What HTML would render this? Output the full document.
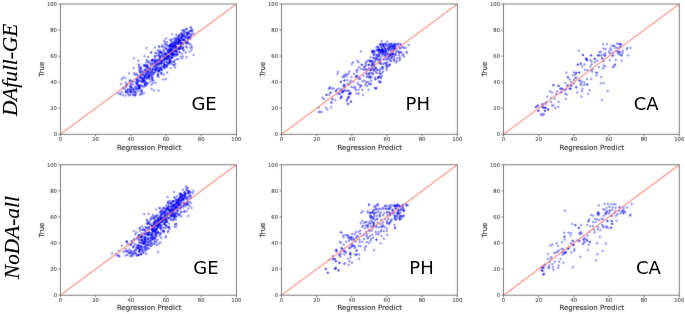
<!DOCTYPE html><html><head><meta charset="utf-8"><style>
html,body{margin:0;padding:0;background:#fff;width:685px;height:314px;overflow:hidden}
svg{display:block}
.t{font-family:"DejaVu Sans",sans-serif;font-size:5.3px;fill:#333;stroke:#333;stroke-width:0.06px}
.l{font-family:"DejaVu Sans",sans-serif;font-size:7px;fill:#1a1a1a;stroke:#1a1a1a;stroke-width:0.1px}
.big{font-family:"DejaVu Sans",sans-serif;font-size:18px;fill:#000}
.row{font-family:"Liberation Serif",serif;font-style:italic;font-size:21.3px;fill:#000;stroke:#000;stroke-width:0.18px}
</style></head><body><svg width="685" height="314" viewBox="0 0 685 314">
<defs><filter id="soft" x="0" y="0" width="685" height="314" filterUnits="userSpaceOnUse" color-interpolation-filters="sRGB"><feGaussianBlur in="SourceGraphic" stdDeviation="0.8" result="b"/><feComposite in="SourceGraphic" in2="b" operator="arithmetic" k1="0" k2="0.75" k3="0.25" k4="0"/></filter></defs>
<g filter="url(#soft)">
<rect width="685" height="314" fill="#fff"/>
<g fill="#0000ff" fill-opacity="0.42" stroke="#0000ff" stroke-opacity="0.42" stroke-width="0.3"><circle cx="130.4" cy="94.6" r="1.0"/><circle cx="133.3" cy="95.0" r="1.0"/><circle cx="122.8" cy="95.3" r="1.0"/><circle cx="135.2" cy="95.3" r="1.0"/><circle cx="129.1" cy="95.6" r="1.0"/><circle cx="134.2" cy="95.5" r="1.0"/><circle cx="125.6" cy="95.7" r="1.0"/><circle cx="139.7" cy="94.6" r="1.0"/><circle cx="135.4" cy="95.1" r="1.0"/><circle cx="141.1" cy="94.4" r="1.0"/><circle cx="120.5" cy="94.0" r="1.0"/><circle cx="136.0" cy="93.5" r="1.0"/><circle cx="141.9" cy="93.8" r="1.0"/><circle cx="118.1" cy="93.3" r="1.0"/><circle cx="128.4" cy="94.1" r="1.0"/><circle cx="120.1" cy="94.0" r="1.0"/><circle cx="132.9" cy="94.1" r="1.0"/><circle cx="144.0" cy="93.2" r="1.0"/><circle cx="130.5" cy="92.0" r="1.0"/><circle cx="126.0" cy="92.2" r="1.0"/><circle cx="135.1" cy="92.4" r="1.0"/><circle cx="134.5" cy="92.3" r="1.0"/><circle cx="131.2" cy="92.2" r="1.0"/><circle cx="130.3" cy="92.1" r="1.0"/><circle cx="121.7" cy="91.9" r="1.0"/><circle cx="127.6" cy="92.9" r="1.0"/><circle cx="141.8" cy="92.3" r="1.0"/><circle cx="125.8" cy="91.6" r="1.0"/><circle cx="127.3" cy="91.5" r="1.0"/><circle cx="137.4" cy="91.4" r="1.0"/><circle cx="125.6" cy="91.7" r="1.0"/><circle cx="130.9" cy="90.7" r="1.0"/><circle cx="130.1" cy="91.0" r="1.0"/><circle cx="134.0" cy="91.6" r="1.0"/><circle cx="141.6" cy="91.2" r="1.0"/><circle cx="132.5" cy="91.7" r="1.0"/><circle cx="140.3" cy="91.0" r="1.0"/><circle cx="141.9" cy="90.0" r="1.0"/><circle cx="133.4" cy="89.3" r="1.0"/><circle cx="127.8" cy="90.4" r="1.0"/><circle cx="127.5" cy="90.4" r="1.0"/><circle cx="130.0" cy="89.8" r="1.0"/><circle cx="125.3" cy="89.3" r="1.0"/><circle cx="129.9" cy="89.3" r="1.0"/><circle cx="133.3" cy="89.6" r="1.0"/><circle cx="135.4" cy="90.4" r="1.0"/><circle cx="131.5" cy="89.5" r="1.0"/><circle cx="151.7" cy="88.9" r="1.0"/><circle cx="128.1" cy="89.0" r="1.0"/><circle cx="138.0" cy="88.7" r="1.0"/><circle cx="138.7" cy="88.6" r="1.0"/><circle cx="139.2" cy="88.8" r="1.0"/><circle cx="139.5" cy="88.4" r="1.0"/><circle cx="136.8" cy="88.4" r="1.0"/><circle cx="136.1" cy="88.9" r="1.0"/><circle cx="123.2" cy="88.4" r="1.0"/><circle cx="133.5" cy="88.8" r="1.0"/><circle cx="139.3" cy="87.2" r="1.0"/><circle cx="135.8" cy="87.9" r="1.0"/><circle cx="140.4" cy="87.7" r="1.0"/><circle cx="126.0" cy="86.9" r="1.0"/><circle cx="143.6" cy="86.9" r="1.0"/><circle cx="130.3" cy="87.1" r="1.0"/><circle cx="130.9" cy="86.7" r="1.0"/><circle cx="134.9" cy="86.9" r="1.0"/><circle cx="131.5" cy="87.5" r="1.0"/><circle cx="138.7" cy="87.1" r="1.0"/><circle cx="131.5" cy="87.5" r="1.0"/><circle cx="126.2" cy="85.7" r="1.0"/><circle cx="140.1" cy="85.6" r="1.0"/><circle cx="145.2" cy="86.0" r="1.0"/><circle cx="141.5" cy="85.5" r="1.0"/><circle cx="139.0" cy="86.5" r="1.0"/><circle cx="145.3" cy="85.5" r="1.0"/><circle cx="138.5" cy="86.1" r="1.0"/><circle cx="139.5" cy="86.5" r="1.0"/><circle cx="136.5" cy="85.8" r="1.0"/><circle cx="142.3" cy="86.0" r="1.0"/><circle cx="129.9" cy="86.1" r="1.0"/><circle cx="121.0" cy="84.0" r="1.0"/><circle cx="139.5" cy="85.2" r="1.0"/><circle cx="131.1" cy="84.0" r="1.0"/><circle cx="133.1" cy="84.6" r="1.0"/><circle cx="126.6" cy="85.2" r="1.0"/><circle cx="126.6" cy="84.8" r="1.0"/><circle cx="130.8" cy="85.0" r="1.0"/><circle cx="145.2" cy="84.4" r="1.0"/><circle cx="151.6" cy="84.6" r="1.0"/><circle cx="138.1" cy="84.9" r="1.0"/><circle cx="146.8" cy="85.0" r="1.0"/><circle cx="137.6" cy="83.9" r="1.0"/><circle cx="136.6" cy="83.7" r="1.0"/><circle cx="147.2" cy="83.5" r="1.0"/><circle cx="153.3" cy="83.0" r="1.0"/><circle cx="136.6" cy="83.2" r="1.0"/><circle cx="144.6" cy="84.0" r="1.0"/><circle cx="146.5" cy="83.9" r="1.0"/><circle cx="145.2" cy="83.4" r="1.0"/><circle cx="148.2" cy="82.9" r="1.0"/><circle cx="137.2" cy="82.8" r="1.0"/><circle cx="145.3" cy="83.5" r="1.0"/><circle cx="155.8" cy="82.8" r="1.0"/><circle cx="132.1" cy="81.5" r="1.0"/><circle cx="150.7" cy="81.6" r="1.0"/><circle cx="144.0" cy="81.4" r="1.0"/><circle cx="131.9" cy="81.9" r="1.0"/><circle cx="145.7" cy="81.8" r="1.0"/><circle cx="137.3" cy="82.2" r="1.0"/><circle cx="125.8" cy="82.5" r="1.0"/><circle cx="135.3" cy="82.3" r="1.0"/><circle cx="143.1" cy="81.8" r="1.0"/><circle cx="145.5" cy="82.3" r="1.0"/><circle cx="142.3" cy="81.8" r="1.0"/><circle cx="141.2" cy="82.0" r="1.0"/><circle cx="137.7" cy="81.4" r="1.0"/><circle cx="144.0" cy="80.9" r="1.0"/><circle cx="136.9" cy="80.6" r="1.0"/><circle cx="144.1" cy="80.7" r="1.0"/><circle cx="130.2" cy="80.2" r="1.0"/><circle cx="152.6" cy="80.2" r="1.0"/><circle cx="138.5" cy="80.2" r="1.0"/><circle cx="130.1" cy="80.4" r="1.0"/><circle cx="140.2" cy="80.8" r="1.0"/><circle cx="139.1" cy="80.7" r="1.0"/><circle cx="143.0" cy="80.9" r="1.0"/><circle cx="133.0" cy="80.9" r="1.0"/><circle cx="144.4" cy="79.4" r="1.0"/><circle cx="165.8" cy="79.0" r="1.0"/><circle cx="137.1" cy="79.6" r="1.0"/><circle cx="136.4" cy="79.1" r="1.0"/><circle cx="142.2" cy="80.1" r="1.0"/><circle cx="142.2" cy="80.1" r="1.0"/><circle cx="149.6" cy="79.3" r="1.0"/><circle cx="143.7" cy="79.8" r="1.0"/><circle cx="136.7" cy="80.0" r="1.0"/><circle cx="144.3" cy="79.9" r="1.0"/><circle cx="163.2" cy="79.6" r="1.0"/><circle cx="152.6" cy="79.7" r="1.0"/><circle cx="121.7" cy="79.4" r="1.0"/><circle cx="145.8" cy="77.9" r="1.0"/><circle cx="143.5" cy="78.2" r="1.0"/><circle cx="137.8" cy="78.5" r="1.0"/><circle cx="140.3" cy="77.6" r="1.0"/><circle cx="139.6" cy="77.8" r="1.0"/><circle cx="123.2" cy="77.6" r="1.0"/><circle cx="152.3" cy="77.7" r="1.0"/><circle cx="149.0" cy="77.6" r="1.0"/><circle cx="142.1" cy="78.6" r="1.0"/><circle cx="151.6" cy="78.8" r="1.0"/><circle cx="147.2" cy="78.5" r="1.0"/><circle cx="146.9" cy="78.3" r="1.0"/><circle cx="125.4" cy="77.9" r="1.0"/><circle cx="142.3" cy="78.2" r="1.0"/><circle cx="148.3" cy="76.4" r="1.0"/><circle cx="148.4" cy="77.3" r="1.0"/><circle cx="144.9" cy="76.2" r="1.0"/><circle cx="147.4" cy="77.2" r="1.0"/><circle cx="144.9" cy="77.1" r="1.0"/><circle cx="151.2" cy="76.7" r="1.0"/><circle cx="148.9" cy="77.1" r="1.0"/><circle cx="140.9" cy="77.0" r="1.0"/><circle cx="140.3" cy="77.4" r="1.0"/><circle cx="158.5" cy="77.0" r="1.0"/><circle cx="144.0" cy="77.5" r="1.0"/><circle cx="152.5" cy="77.2" r="1.0"/><circle cx="148.7" cy="76.3" r="1.0"/><circle cx="140.7" cy="77.1" r="1.0"/><circle cx="158.2" cy="75.6" r="1.0"/><circle cx="148.7" cy="76.0" r="1.0"/><circle cx="150.1" cy="75.0" r="1.0"/><circle cx="149.4" cy="75.3" r="1.0"/><circle cx="140.7" cy="75.4" r="1.0"/><circle cx="150.7" cy="75.3" r="1.0"/><circle cx="144.7" cy="75.7" r="1.0"/><circle cx="140.0" cy="75.7" r="1.0"/><circle cx="146.2" cy="75.4" r="1.0"/><circle cx="144.6" cy="75.6" r="1.0"/><circle cx="152.4" cy="75.3" r="1.0"/><circle cx="146.5" cy="75.0" r="1.0"/><circle cx="142.7" cy="75.1" r="1.0"/><circle cx="157.4" cy="75.7" r="1.0"/><circle cx="148.5" cy="74.2" r="1.0"/><circle cx="147.4" cy="73.6" r="1.0"/><circle cx="134.5" cy="74.6" r="1.0"/><circle cx="153.2" cy="74.2" r="1.0"/><circle cx="163.8" cy="74.5" r="1.0"/><circle cx="136.4" cy="74.0" r="1.0"/><circle cx="161.5" cy="74.1" r="1.0"/><circle cx="142.3" cy="74.2" r="1.0"/><circle cx="143.5" cy="74.5" r="1.0"/><circle cx="146.1" cy="74.2" r="1.0"/><circle cx="136.3" cy="74.4" r="1.0"/><circle cx="157.8" cy="73.7" r="1.0"/><circle cx="151.2" cy="74.3" r="1.0"/><circle cx="141.7" cy="74.3" r="1.0"/><circle cx="161.6" cy="72.8" r="1.0"/><circle cx="150.3" cy="73.3" r="1.0"/><circle cx="146.6" cy="73.6" r="1.0"/><circle cx="153.1" cy="72.7" r="1.0"/><circle cx="134.2" cy="73.0" r="1.0"/><circle cx="148.9" cy="72.4" r="1.0"/><circle cx="140.3" cy="73.2" r="1.0"/><circle cx="167.1" cy="72.5" r="1.0"/><circle cx="154.6" cy="72.3" r="1.0"/><circle cx="150.1" cy="72.4" r="1.0"/><circle cx="147.6" cy="72.3" r="1.0"/><circle cx="129.1" cy="73.4" r="1.0"/><circle cx="153.6" cy="73.4" r="1.0"/><circle cx="160.7" cy="73.3" r="1.0"/><circle cx="142.9" cy="73.1" r="1.0"/><circle cx="148.7" cy="71.9" r="1.0"/><circle cx="142.5" cy="71.5" r="1.0"/><circle cx="152.0" cy="71.8" r="1.0"/><circle cx="140.7" cy="71.9" r="1.0"/><circle cx="158.1" cy="71.2" r="1.0"/><circle cx="143.6" cy="72.3" r="1.0"/><circle cx="151.9" cy="72.3" r="1.0"/><circle cx="144.7" cy="72.2" r="1.0"/><circle cx="147.7" cy="71.1" r="1.0"/><circle cx="158.9" cy="71.5" r="1.0"/><circle cx="151.6" cy="71.3" r="1.0"/><circle cx="147.3" cy="71.0" r="1.0"/><circle cx="139.9" cy="72.0" r="1.0"/><circle cx="159.0" cy="71.1" r="1.0"/><circle cx="155.0" cy="72.0" r="1.0"/><circle cx="156.5" cy="70.8" r="1.0"/><circle cx="141.6" cy="70.3" r="1.0"/><circle cx="161.9" cy="70.2" r="1.0"/><circle cx="145.4" cy="70.1" r="1.0"/><circle cx="150.0" cy="70.1" r="1.0"/><circle cx="140.0" cy="70.9" r="1.0"/><circle cx="155.7" cy="70.1" r="1.0"/><circle cx="161.2" cy="69.8" r="1.0"/><circle cx="159.3" cy="70.1" r="1.0"/><circle cx="157.9" cy="69.7" r="1.0"/><circle cx="139.3" cy="70.3" r="1.0"/><circle cx="145.5" cy="69.9" r="1.0"/><circle cx="147.0" cy="70.8" r="1.0"/><circle cx="144.5" cy="69.8" r="1.0"/><circle cx="159.4" cy="70.4" r="1.0"/><circle cx="152.9" cy="69.8" r="1.0"/><circle cx="161.0" cy="68.5" r="1.0"/><circle cx="152.4" cy="69.3" r="1.0"/><circle cx="150.2" cy="69.5" r="1.0"/><circle cx="160.3" cy="69.2" r="1.0"/><circle cx="150.2" cy="68.5" r="1.0"/><circle cx="154.4" cy="69.5" r="1.0"/><circle cx="162.0" cy="69.3" r="1.0"/><circle cx="150.2" cy="68.5" r="1.0"/><circle cx="147.6" cy="69.2" r="1.0"/><circle cx="152.8" cy="68.6" r="1.0"/><circle cx="156.2" cy="69.6" r="1.0"/><circle cx="156.5" cy="68.5" r="1.0"/><circle cx="153.2" cy="69.4" r="1.0"/><circle cx="156.1" cy="69.4" r="1.0"/><circle cx="140.7" cy="68.7" r="1.0"/><circle cx="146.6" cy="68.4" r="1.0"/><circle cx="163.8" cy="67.5" r="1.0"/><circle cx="158.4" cy="67.4" r="1.0"/><circle cx="138.8" cy="67.6" r="1.0"/><circle cx="159.1" cy="68.3" r="1.0"/><circle cx="164.8" cy="68.3" r="1.0"/><circle cx="148.2" cy="67.4" r="1.0"/><circle cx="160.7" cy="68.1" r="1.0"/><circle cx="140.7" cy="67.3" r="1.0"/><circle cx="155.6" cy="67.8" r="1.0"/><circle cx="140.7" cy="68.4" r="1.0"/><circle cx="157.5" cy="67.6" r="1.0"/><circle cx="140.3" cy="67.8" r="1.0"/><circle cx="133.5" cy="68.3" r="1.0"/><circle cx="156.4" cy="68.0" r="1.0"/><circle cx="170.6" cy="68.0" r="1.0"/><circle cx="149.1" cy="67.9" r="1.0"/><circle cx="160.3" cy="67.4" r="1.0"/><circle cx="166.1" cy="66.7" r="1.0"/><circle cx="164.3" cy="66.8" r="1.0"/><circle cx="161.8" cy="66.4" r="1.0"/><circle cx="145.3" cy="65.9" r="1.0"/><circle cx="143.8" cy="66.1" r="1.0"/><circle cx="163.1" cy="66.8" r="1.0"/><circle cx="147.6" cy="67.0" r="1.0"/><circle cx="155.7" cy="67.0" r="1.0"/><circle cx="147.1" cy="66.5" r="1.0"/><circle cx="153.6" cy="66.6" r="1.0"/><circle cx="145.9" cy="66.2" r="1.0"/><circle cx="166.7" cy="67.0" r="1.0"/><circle cx="147.2" cy="66.7" r="1.0"/><circle cx="154.5" cy="66.2" r="1.0"/><circle cx="153.9" cy="66.3" r="1.0"/><circle cx="164.2" cy="66.4" r="1.0"/><circle cx="145.2" cy="65.9" r="1.0"/><circle cx="144.0" cy="64.8" r="1.0"/><circle cx="147.5" cy="65.4" r="1.0"/><circle cx="155.6" cy="65.2" r="1.0"/><circle cx="174.2" cy="65.5" r="1.0"/><circle cx="159.6" cy="65.0" r="1.0"/><circle cx="166.0" cy="64.7" r="1.0"/><circle cx="155.3" cy="64.7" r="1.0"/><circle cx="138.9" cy="64.5" r="1.0"/><circle cx="139.1" cy="65.4" r="1.0"/><circle cx="164.4" cy="64.8" r="1.0"/><circle cx="157.4" cy="65.6" r="1.0"/><circle cx="147.0" cy="65.1" r="1.0"/><circle cx="164.3" cy="65.6" r="1.0"/><circle cx="145.2" cy="65.1" r="1.0"/><circle cx="165.0" cy="65.1" r="1.0"/><circle cx="167.1" cy="65.3" r="1.0"/><circle cx="150.7" cy="65.3" r="1.0"/><circle cx="167.7" cy="64.2" r="1.0"/><circle cx="170.7" cy="63.3" r="1.0"/><circle cx="156.3" cy="64.0" r="1.0"/><circle cx="150.8" cy="64.3" r="1.0"/><circle cx="157.4" cy="64.4" r="1.0"/><circle cx="152.8" cy="63.9" r="1.0"/><circle cx="155.8" cy="63.6" r="1.0"/><circle cx="169.1" cy="64.1" r="1.0"/><circle cx="161.3" cy="63.4" r="1.0"/><circle cx="158.7" cy="64.1" r="1.0"/><circle cx="161.0" cy="63.4" r="1.0"/><circle cx="156.9" cy="64.4" r="1.0"/><circle cx="163.8" cy="64.1" r="1.0"/><circle cx="163.9" cy="64.3" r="1.0"/><circle cx="155.1" cy="63.9" r="1.0"/><circle cx="158.5" cy="64.0" r="1.0"/><circle cx="175.6" cy="63.9" r="1.0"/><circle cx="161.5" cy="63.3" r="1.0"/><circle cx="169.0" cy="62.5" r="1.0"/><circle cx="157.8" cy="62.9" r="1.0"/><circle cx="148.8" cy="62.7" r="1.0"/><circle cx="162.1" cy="63.1" r="1.0"/><circle cx="164.5" cy="62.3" r="1.0"/><circle cx="166.7" cy="62.2" r="1.0"/><circle cx="159.2" cy="63.1" r="1.0"/><circle cx="167.9" cy="62.8" r="1.0"/><circle cx="169.9" cy="62.2" r="1.0"/><circle cx="151.2" cy="62.9" r="1.0"/><circle cx="169.9" cy="62.5" r="1.0"/><circle cx="161.0" cy="62.1" r="1.0"/><circle cx="155.3" cy="62.4" r="1.0"/><circle cx="156.5" cy="63.0" r="1.0"/><circle cx="173.6" cy="62.0" r="1.0"/><circle cx="166.9" cy="62.2" r="1.0"/><circle cx="146.3" cy="62.4" r="1.0"/><circle cx="159.7" cy="62.7" r="1.0"/><circle cx="159.2" cy="60.9" r="1.0"/><circle cx="162.0" cy="61.5" r="1.0"/><circle cx="147.6" cy="60.9" r="1.0"/><circle cx="172.1" cy="61.5" r="1.0"/><circle cx="154.7" cy="61.5" r="1.0"/><circle cx="156.5" cy="61.2" r="1.0"/><circle cx="169.9" cy="61.8" r="1.0"/><circle cx="162.3" cy="61.3" r="1.0"/><circle cx="161.1" cy="61.1" r="1.0"/><circle cx="156.9" cy="60.8" r="1.0"/><circle cx="148.7" cy="61.8" r="1.0"/><circle cx="162.5" cy="60.8" r="1.0"/><circle cx="169.5" cy="61.1" r="1.0"/><circle cx="154.3" cy="61.1" r="1.0"/><circle cx="170.0" cy="61.8" r="1.0"/><circle cx="153.0" cy="60.7" r="1.0"/><circle cx="155.1" cy="61.5" r="1.0"/><circle cx="164.5" cy="61.1" r="1.0"/><circle cx="154.3" cy="60.4" r="1.0"/><circle cx="170.0" cy="60.2" r="1.0"/><circle cx="159.2" cy="60.5" r="1.0"/><circle cx="156.4" cy="59.8" r="1.0"/><circle cx="161.3" cy="60.4" r="1.0"/><circle cx="170.5" cy="60.3" r="1.0"/><circle cx="152.0" cy="60.0" r="1.0"/><circle cx="159.3" cy="60.0" r="1.0"/><circle cx="151.4" cy="60.5" r="1.0"/><circle cx="178.5" cy="59.3" r="1.0"/><circle cx="174.9" cy="60.3" r="1.0"/><circle cx="169.2" cy="59.8" r="1.0"/><circle cx="160.8" cy="60.3" r="1.0"/><circle cx="167.0" cy="59.8" r="1.0"/><circle cx="146.7" cy="60.1" r="1.0"/><circle cx="163.9" cy="60.1" r="1.0"/><circle cx="152.4" cy="59.9" r="1.0"/><circle cx="152.6" cy="59.8" r="1.0"/><circle cx="166.3" cy="59.1" r="1.0"/><circle cx="160.0" cy="58.4" r="1.0"/><circle cx="163.9" cy="58.7" r="1.0"/><circle cx="165.1" cy="58.4" r="1.0"/><circle cx="158.7" cy="58.7" r="1.0"/><circle cx="154.9" cy="59.1" r="1.0"/><circle cx="164.6" cy="58.5" r="1.0"/><circle cx="169.8" cy="59.2" r="1.0"/><circle cx="168.6" cy="58.1" r="1.0"/><circle cx="167.4" cy="58.2" r="1.0"/><circle cx="166.9" cy="58.8" r="1.0"/><circle cx="182.2" cy="58.5" r="1.0"/><circle cx="165.4" cy="58.6" r="1.0"/><circle cx="171.6" cy="58.0" r="1.0"/><circle cx="177.0" cy="59.2" r="1.0"/><circle cx="163.6" cy="58.9" r="1.0"/><circle cx="165.3" cy="58.7" r="1.0"/><circle cx="171.4" cy="58.2" r="1.0"/><circle cx="167.0" cy="56.8" r="1.0"/><circle cx="165.7" cy="57.1" r="1.0"/><circle cx="165.0" cy="56.8" r="1.0"/><circle cx="173.3" cy="57.0" r="1.0"/><circle cx="160.4" cy="57.1" r="1.0"/><circle cx="168.5" cy="57.4" r="1.0"/><circle cx="163.8" cy="57.7" r="1.0"/><circle cx="166.9" cy="57.0" r="1.0"/><circle cx="163.2" cy="57.1" r="1.0"/><circle cx="180.7" cy="56.7" r="1.0"/><circle cx="160.0" cy="57.5" r="1.0"/><circle cx="167.2" cy="56.8" r="1.0"/><circle cx="166.5" cy="57.7" r="1.0"/><circle cx="169.8" cy="56.7" r="1.0"/><circle cx="168.8" cy="56.6" r="1.0"/><circle cx="167.3" cy="57.9" r="1.0"/><circle cx="171.7" cy="57.5" r="1.0"/><circle cx="154.8" cy="56.6" r="1.0"/><circle cx="165.6" cy="56.7" r="1.0"/><circle cx="168.4" cy="56.4" r="1.0"/><circle cx="183.0" cy="56.3" r="1.0"/><circle cx="166.9" cy="55.9" r="1.0"/><circle cx="163.3" cy="55.6" r="1.0"/><circle cx="167.5" cy="55.7" r="1.0"/><circle cx="156.9" cy="55.7" r="1.0"/><circle cx="169.8" cy="55.8" r="1.0"/><circle cx="165.5" cy="55.9" r="1.0"/><circle cx="168.3" cy="56.2" r="1.0"/><circle cx="168.3" cy="56.4" r="1.0"/><circle cx="159.3" cy="55.5" r="1.0"/><circle cx="175.4" cy="56.1" r="1.0"/><circle cx="159.3" cy="55.8" r="1.0"/><circle cx="171.9" cy="56.6" r="1.0"/><circle cx="154.8" cy="56.2" r="1.0"/><circle cx="168.3" cy="56.5" r="1.0"/><circle cx="160.3" cy="56.2" r="1.0"/><circle cx="166.8" cy="55.7" r="1.0"/><circle cx="161.4" cy="56.2" r="1.0"/><circle cx="172.2" cy="54.7" r="1.0"/><circle cx="164.6" cy="54.3" r="1.0"/><circle cx="177.7" cy="54.4" r="1.0"/><circle cx="172.4" cy="55.1" r="1.0"/><circle cx="173.2" cy="54.9" r="1.0"/><circle cx="176.2" cy="54.4" r="1.0"/><circle cx="172.4" cy="54.8" r="1.0"/><circle cx="158.5" cy="55.0" r="1.0"/><circle cx="165.4" cy="54.1" r="1.0"/><circle cx="175.0" cy="54.2" r="1.0"/><circle cx="162.0" cy="54.9" r="1.0"/><circle cx="167.9" cy="54.6" r="1.0"/><circle cx="170.9" cy="54.1" r="1.0"/><circle cx="177.2" cy="55.1" r="1.0"/><circle cx="177.1" cy="54.2" r="1.0"/><circle cx="174.3" cy="54.2" r="1.0"/><circle cx="166.6" cy="54.4" r="1.0"/><circle cx="174.1" cy="54.4" r="1.0"/><circle cx="171.5" cy="54.4" r="1.0"/><circle cx="172.7" cy="53.0" r="1.0"/><circle cx="159.4" cy="53.5" r="1.0"/><circle cx="170.7" cy="52.9" r="1.0"/><circle cx="165.7" cy="53.7" r="1.0"/><circle cx="172.5" cy="53.1" r="1.0"/><circle cx="169.9" cy="53.6" r="1.0"/><circle cx="159.8" cy="52.9" r="1.0"/><circle cx="156.3" cy="53.2" r="1.0"/><circle cx="162.1" cy="53.2" r="1.0"/><circle cx="173.3" cy="53.9" r="1.0"/><circle cx="172.1" cy="53.1" r="1.0"/><circle cx="171.4" cy="53.6" r="1.0"/><circle cx="155.3" cy="53.1" r="1.0"/><circle cx="150.8" cy="52.9" r="1.0"/><circle cx="164.0" cy="53.9" r="1.0"/><circle cx="165.9" cy="54.0" r="1.0"/><circle cx="165.0" cy="53.0" r="1.0"/><circle cx="171.9" cy="52.8" r="1.0"/><circle cx="168.2" cy="52.9" r="1.0"/><circle cx="169.7" cy="52.1" r="1.0"/><circle cx="158.4" cy="52.0" r="1.0"/><circle cx="161.3" cy="52.2" r="1.0"/><circle cx="179.3" cy="52.1" r="1.0"/><circle cx="151.4" cy="51.9" r="1.0"/><circle cx="168.4" cy="51.6" r="1.0"/><circle cx="176.1" cy="52.0" r="1.0"/><circle cx="170.9" cy="52.2" r="1.0"/><circle cx="175.8" cy="51.5" r="1.0"/><circle cx="168.8" cy="52.5" r="1.0"/><circle cx="185.7" cy="52.7" r="1.0"/><circle cx="163.7" cy="51.5" r="1.0"/><circle cx="160.6" cy="52.4" r="1.0"/><circle cx="171.5" cy="52.5" r="1.0"/><circle cx="179.6" cy="52.2" r="1.0"/><circle cx="169.5" cy="52.3" r="1.0"/><circle cx="177.0" cy="52.3" r="1.0"/><circle cx="167.0" cy="51.6" r="1.0"/><circle cx="161.8" cy="52.4" r="1.0"/><circle cx="173.9" cy="51.0" r="1.0"/><circle cx="170.9" cy="50.5" r="1.0"/><circle cx="157.8" cy="50.3" r="1.0"/><circle cx="174.7" cy="50.7" r="1.0"/><circle cx="169.9" cy="50.5" r="1.0"/><circle cx="177.2" cy="51.1" r="1.0"/><circle cx="170.7" cy="50.4" r="1.0"/><circle cx="171.2" cy="50.4" r="1.0"/><circle cx="172.7" cy="50.9" r="1.0"/><circle cx="171.0" cy="51.1" r="1.0"/><circle cx="167.8" cy="51.4" r="1.0"/><circle cx="159.6" cy="50.6" r="1.0"/><circle cx="183.9" cy="50.6" r="1.0"/><circle cx="160.2" cy="51.4" r="1.0"/><circle cx="169.2" cy="50.8" r="1.0"/><circle cx="176.3" cy="50.2" r="1.0"/><circle cx="173.3" cy="51.4" r="1.0"/><circle cx="174.7" cy="51.3" r="1.0"/><circle cx="176.0" cy="51.4" r="1.0"/><circle cx="163.5" cy="49.8" r="1.0"/><circle cx="172.7" cy="49.6" r="1.0"/><circle cx="171.2" cy="49.8" r="1.0"/><circle cx="171.7" cy="49.0" r="1.0"/><circle cx="169.7" cy="49.8" r="1.0"/><circle cx="183.3" cy="49.9" r="1.0"/><circle cx="177.6" cy="49.1" r="1.0"/><circle cx="179.2" cy="49.1" r="1.0"/><circle cx="169.3" cy="49.0" r="1.0"/><circle cx="166.3" cy="49.2" r="1.0"/><circle cx="170.8" cy="49.6" r="1.0"/><circle cx="174.3" cy="49.5" r="1.0"/><circle cx="170.6" cy="49.4" r="1.0"/><circle cx="171.6" cy="49.3" r="1.0"/><circle cx="179.6" cy="48.9" r="1.0"/><circle cx="174.4" cy="49.8" r="1.0"/><circle cx="166.7" cy="49.1" r="1.0"/><circle cx="169.3" cy="50.1" r="1.0"/><circle cx="168.1" cy="49.9" r="1.0"/><circle cx="176.0" cy="47.8" r="1.0"/><circle cx="180.5" cy="48.2" r="1.0"/><circle cx="174.6" cy="48.0" r="1.0"/><circle cx="154.9" cy="47.6" r="1.0"/><circle cx="173.0" cy="47.7" r="1.0"/><circle cx="175.8" cy="48.7" r="1.0"/><circle cx="182.5" cy="47.9" r="1.0"/><circle cx="178.9" cy="47.8" r="1.0"/><circle cx="190.3" cy="47.6" r="1.0"/><circle cx="182.9" cy="48.3" r="1.0"/><circle cx="182.1" cy="48.6" r="1.0"/><circle cx="180.0" cy="48.2" r="1.0"/><circle cx="165.1" cy="48.3" r="1.0"/><circle cx="179.3" cy="48.3" r="1.0"/><circle cx="178.2" cy="47.8" r="1.0"/><circle cx="170.9" cy="48.0" r="1.0"/><circle cx="178.0" cy="47.9" r="1.0"/><circle cx="176.9" cy="48.0" r="1.0"/><circle cx="180.6" cy="47.1" r="1.0"/><circle cx="165.6" cy="47.3" r="1.0"/><circle cx="172.7" cy="46.7" r="1.0"/><circle cx="175.8" cy="47.5" r="1.0"/><circle cx="170.5" cy="46.5" r="1.0"/><circle cx="176.4" cy="47.1" r="1.0"/><circle cx="180.2" cy="46.6" r="1.0"/><circle cx="168.6" cy="46.3" r="1.0"/><circle cx="175.1" cy="46.6" r="1.0"/><circle cx="173.0" cy="47.0" r="1.0"/><circle cx="163.6" cy="46.7" r="1.0"/><circle cx="174.7" cy="46.4" r="1.0"/><circle cx="170.8" cy="46.6" r="1.0"/><circle cx="183.3" cy="47.2" r="1.0"/><circle cx="169.3" cy="47.5" r="1.0"/><circle cx="186.3" cy="46.4" r="1.0"/><circle cx="172.3" cy="46.7" r="1.0"/><circle cx="186.7" cy="47.4" r="1.0"/><circle cx="166.6" cy="44.9" r="1.0"/><circle cx="180.7" cy="45.9" r="1.0"/><circle cx="167.9" cy="45.5" r="1.0"/><circle cx="175.4" cy="45.8" r="1.0"/><circle cx="172.3" cy="46.1" r="1.0"/><circle cx="174.5" cy="45.4" r="1.0"/><circle cx="170.0" cy="46.0" r="1.0"/><circle cx="169.9" cy="45.3" r="1.0"/><circle cx="175.5" cy="45.2" r="1.0"/><circle cx="169.7" cy="46.0" r="1.0"/><circle cx="191.4" cy="45.4" r="1.0"/><circle cx="173.8" cy="45.9" r="1.0"/><circle cx="172.9" cy="45.2" r="1.0"/><circle cx="173.0" cy="45.8" r="1.0"/><circle cx="170.4" cy="45.3" r="1.0"/><circle cx="162.1" cy="45.4" r="1.0"/><circle cx="175.1" cy="45.5" r="1.0"/><circle cx="171.1" cy="44.4" r="1.0"/><circle cx="172.6" cy="44.0" r="1.0"/><circle cx="171.0" cy="44.6" r="1.0"/><circle cx="182.9" cy="43.7" r="1.0"/><circle cx="176.9" cy="43.9" r="1.0"/><circle cx="164.7" cy="44.1" r="1.0"/><circle cx="181.6" cy="44.5" r="1.0"/><circle cx="189.9" cy="43.9" r="1.0"/><circle cx="188.4" cy="43.7" r="1.0"/><circle cx="174.6" cy="43.9" r="1.0"/><circle cx="178.5" cy="43.7" r="1.0"/><circle cx="180.1" cy="44.8" r="1.0"/><circle cx="183.0" cy="43.9" r="1.0"/><circle cx="178.2" cy="43.8" r="1.0"/><circle cx="171.2" cy="44.3" r="1.0"/><circle cx="181.5" cy="44.8" r="1.0"/><circle cx="181.2" cy="44.2" r="1.0"/><circle cx="186.4" cy="43.3" r="1.0"/><circle cx="186.5" cy="43.1" r="1.0"/><circle cx="180.5" cy="42.9" r="1.0"/><circle cx="182.3" cy="43.3" r="1.0"/><circle cx="174.3" cy="43.0" r="1.0"/><circle cx="181.9" cy="42.9" r="1.0"/><circle cx="173.5" cy="43.5" r="1.0"/><circle cx="178.2" cy="42.4" r="1.0"/><circle cx="177.9" cy="42.9" r="1.0"/><circle cx="175.6" cy="43.4" r="1.0"/><circle cx="167.2" cy="42.3" r="1.0"/><circle cx="173.6" cy="43.4" r="1.0"/><circle cx="180.7" cy="42.7" r="1.0"/><circle cx="178.2" cy="43.0" r="1.0"/><circle cx="176.1" cy="43.3" r="1.0"/><circle cx="180.8" cy="43.1" r="1.0"/><circle cx="178.3" cy="42.1" r="1.0"/><circle cx="175.4" cy="41.5" r="1.0"/><circle cx="179.0" cy="41.4" r="1.0"/><circle cx="179.0" cy="42.1" r="1.0"/><circle cx="185.8" cy="41.3" r="1.0"/><circle cx="171.8" cy="41.8" r="1.0"/><circle cx="179.9" cy="41.0" r="1.0"/><circle cx="187.8" cy="42.3" r="1.0"/><circle cx="176.3" cy="42.2" r="1.0"/><circle cx="178.7" cy="41.5" r="1.0"/><circle cx="174.5" cy="42.0" r="1.0"/><circle cx="165.2" cy="41.8" r="1.0"/><circle cx="179.4" cy="41.1" r="1.0"/><circle cx="185.8" cy="41.9" r="1.0"/><circle cx="176.5" cy="42.2" r="1.0"/><circle cx="176.4" cy="39.7" r="1.0"/><circle cx="170.1" cy="39.8" r="1.0"/><circle cx="179.6" cy="40.7" r="1.0"/><circle cx="181.7" cy="39.9" r="1.0"/><circle cx="174.8" cy="40.4" r="1.0"/><circle cx="184.4" cy="40.1" r="1.0"/><circle cx="181.2" cy="40.2" r="1.0"/><circle cx="183.1" cy="40.1" r="1.0"/><circle cx="176.4" cy="40.4" r="1.0"/><circle cx="170.9" cy="40.8" r="1.0"/><circle cx="184.9" cy="40.0" r="1.0"/><circle cx="183.7" cy="40.4" r="1.0"/><circle cx="179.9" cy="40.4" r="1.0"/><circle cx="178.6" cy="40.0" r="1.0"/><circle cx="188.3" cy="38.7" r="1.0"/><circle cx="177.7" cy="38.7" r="1.0"/><circle cx="166.0" cy="38.5" r="1.0"/><circle cx="183.5" cy="38.7" r="1.0"/><circle cx="188.0" cy="39.3" r="1.0"/><circle cx="187.9" cy="38.4" r="1.0"/><circle cx="178.4" cy="39.7" r="1.0"/><circle cx="181.5" cy="38.5" r="1.0"/><circle cx="182.9" cy="39.2" r="1.0"/><circle cx="172.2" cy="39.3" r="1.0"/><circle cx="178.2" cy="39.1" r="1.0"/><circle cx="178.2" cy="39.2" r="1.0"/><circle cx="190.0" cy="38.6" r="1.0"/><circle cx="176.3" cy="38.2" r="1.0"/><circle cx="177.5" cy="37.5" r="1.0"/><circle cx="180.4" cy="38.1" r="1.0"/><circle cx="187.3" cy="37.8" r="1.0"/><circle cx="181.3" cy="37.6" r="1.0"/><circle cx="185.7" cy="37.9" r="1.0"/><circle cx="190.4" cy="38.1" r="1.0"/><circle cx="188.9" cy="37.6" r="1.0"/><circle cx="189.9" cy="37.4" r="1.0"/><circle cx="189.1" cy="37.1" r="1.0"/><circle cx="174.5" cy="38.0" r="1.0"/><circle cx="188.4" cy="38.1" r="1.0"/><circle cx="183.3" cy="35.9" r="1.0"/><circle cx="189.4" cy="37.1" r="1.0"/><circle cx="181.7" cy="37.0" r="1.0"/><circle cx="186.5" cy="36.3" r="1.0"/><circle cx="178.4" cy="36.7" r="1.0"/><circle cx="184.9" cy="36.8" r="1.0"/><circle cx="184.6" cy="35.8" r="1.0"/><circle cx="184.2" cy="36.7" r="1.0"/><circle cx="181.8" cy="35.9" r="1.0"/><circle cx="178.8" cy="36.3" r="1.0"/><circle cx="181.7" cy="37.1" r="1.0"/><circle cx="187.1" cy="34.6" r="1.0"/><circle cx="179.1" cy="35.0" r="1.0"/><circle cx="176.3" cy="34.7" r="1.0"/><circle cx="182.4" cy="34.9" r="1.0"/><circle cx="179.0" cy="35.4" r="1.0"/><circle cx="183.1" cy="34.9" r="1.0"/><circle cx="187.2" cy="35.4" r="1.0"/><circle cx="191.3" cy="35.2" r="1.0"/><circle cx="183.3" cy="34.7" r="1.0"/><circle cx="190.6" cy="35.5" r="1.0"/><circle cx="181.7" cy="33.3" r="1.0"/><circle cx="187.0" cy="33.3" r="1.0"/><circle cx="184.6" cy="33.8" r="1.0"/><circle cx="193.5" cy="33.5" r="1.0"/><circle cx="187.9" cy="34.1" r="1.0"/><circle cx="172.2" cy="34.3" r="1.0"/><circle cx="191.7" cy="33.7" r="1.0"/><circle cx="181.3" cy="34.4" r="1.0"/><circle cx="189.0" cy="33.9" r="1.0"/><circle cx="186.6" cy="32.8" r="1.0"/><circle cx="189.1" cy="33.2" r="1.0"/><circle cx="185.1" cy="32.1" r="1.0"/><circle cx="183.4" cy="32.3" r="1.0"/><circle cx="188.0" cy="32.3" r="1.0"/><circle cx="187.9" cy="33.0" r="1.0"/><circle cx="187.9" cy="32.9" r="1.0"/><circle cx="184.1" cy="30.9" r="1.0"/><circle cx="190.0" cy="31.2" r="1.0"/><circle cx="191.3" cy="30.9" r="1.0"/><circle cx="191.9" cy="31.0" r="1.0"/><circle cx="189.7" cy="30.7" r="1.0"/><circle cx="183.4" cy="30.0" r="1.0"/><circle cx="191.8" cy="29.5" r="1.0"/><circle cx="186.4" cy="29.5" r="1.0"/><circle cx="192.4" cy="30.4" r="1.0"/><circle cx="185.6" cy="29.2" r="1.0"/><circle cx="186.7" cy="28.4" r="1.0"/><circle cx="191.0" cy="27.7" r="1.0"/><circle cx="190.6" cy="27.3" r="1.0"/><circle cx="158.6" cy="90.6" r="1.0"/><circle cx="154.1" cy="90.4" r="1.0"/><circle cx="123.2" cy="87.5" r="1.0"/><circle cx="138.7" cy="86.6" r="1.0"/><circle cx="126.9" cy="83.9" r="1.0"/><circle cx="129.5" cy="81.6" r="1.0"/><circle cx="153.4" cy="80.5" r="1.0"/><circle cx="142.8" cy="78.6" r="1.0"/><circle cx="145.1" cy="76.7" r="1.0"/><circle cx="137.9" cy="75.4" r="1.0"/><circle cx="158.0" cy="74.6" r="1.0"/><circle cx="146.0" cy="73.2" r="1.0"/><circle cx="159.0" cy="71.1" r="1.0"/><circle cx="145.9" cy="70.8" r="1.0"/><circle cx="155.0" cy="69.7" r="1.0"/><circle cx="175.0" cy="67.5" r="1.0"/><circle cx="167.0" cy="66.0" r="1.0"/><circle cx="173.8" cy="64.9" r="1.0"/><circle cx="164.8" cy="65.0" r="1.0"/><circle cx="172.6" cy="64.4" r="1.0"/><circle cx="152.9" cy="63.2" r="1.0"/><circle cx="174.2" cy="62.0" r="1.0"/><circle cx="138.4" cy="60.8" r="1.0"/><circle cx="157.1" cy="60.5" r="1.0"/><circle cx="133.8" cy="58.2" r="1.0"/><circle cx="186.7" cy="57.6" r="1.0"/><circle cx="148.2" cy="57.0" r="1.0"/><circle cx="144.5" cy="56.2" r="1.0"/><circle cx="193.5" cy="55.1" r="1.0"/><circle cx="173.7" cy="54.6" r="1.0"/><circle cx="181.9" cy="53.6" r="1.0"/><circle cx="170.2" cy="52.2" r="1.0"/><circle cx="189.4" cy="51.7" r="1.0"/><circle cx="170.6" cy="50.7" r="1.0"/><circle cx="169.9" cy="51.4" r="1.0"/><circle cx="178.7" cy="48.9" r="1.0"/><circle cx="191.4" cy="49.9" r="1.0"/><circle cx="192.0" cy="47.6" r="1.0"/><circle cx="146.6" cy="47.9" r="1.0"/><circle cx="159.2" cy="46.9" r="1.0"/><circle cx="162.0" cy="46.8" r="1.0"/><circle cx="159.2" cy="46.2" r="1.0"/><circle cx="165.7" cy="43.7" r="1.0"/><circle cx="170.6" cy="44.4" r="1.0"/><circle cx="172.9" cy="42.6" r="1.0"/><circle cx="185.8" cy="43.0" r="1.0"/><circle cx="187.5" cy="42.3" r="1.0"/><circle cx="163.9" cy="40.5" r="1.0"/><circle cx="175.3" cy="39.2" r="1.0"/><circle cx="179.9" cy="38.4" r="1.0"/><circle cx="182.2" cy="35.9" r="1.0"/><circle cx="181.0" cy="33.7" r="1.0"/><circle cx="182.3" cy="30.6" r="1.0"/></g>
<line x1="60.40" y1="134.30" x2="236.40" y2="4.00" stroke="#fa8072" stroke-opacity="0.8" stroke-width="1.3"/>
<rect x="60.40" y="4.00" width="176.00" height="130.30" fill="none" stroke="#6a6a6a" stroke-width="0.9"/>
<line x1="60.40" y1="134.30" x2="60.40" y2="136.30" stroke="#6a6a6a" stroke-width="0.9"/>
<line x1="60.40" y1="134.30" x2="58.40" y2="134.30" stroke="#6a6a6a" stroke-width="0.9"/>
<text x="60.40" y="141.10" class="t" text-anchor="middle">0</text>
<text x="57.00" y="136.00" class="t" text-anchor="end">0</text>
<line x1="95.60" y1="134.30" x2="95.60" y2="136.30" stroke="#6a6a6a" stroke-width="0.9"/>
<line x1="60.40" y1="108.24" x2="58.40" y2="108.24" stroke="#6a6a6a" stroke-width="0.9"/>
<text x="95.60" y="141.10" class="t" text-anchor="middle">20</text>
<text x="57.00" y="109.94" class="t" text-anchor="end">20</text>
<line x1="130.80" y1="134.30" x2="130.80" y2="136.30" stroke="#6a6a6a" stroke-width="0.9"/>
<line x1="60.40" y1="82.18" x2="58.40" y2="82.18" stroke="#6a6a6a" stroke-width="0.9"/>
<text x="130.80" y="141.10" class="t" text-anchor="middle">40</text>
<text x="57.00" y="83.88" class="t" text-anchor="end">40</text>
<line x1="166.00" y1="134.30" x2="166.00" y2="136.30" stroke="#6a6a6a" stroke-width="0.9"/>
<line x1="60.40" y1="56.12" x2="58.40" y2="56.12" stroke="#6a6a6a" stroke-width="0.9"/>
<text x="166.00" y="141.10" class="t" text-anchor="middle">60</text>
<text x="57.00" y="57.82" class="t" text-anchor="end">60</text>
<line x1="201.20" y1="134.30" x2="201.20" y2="136.30" stroke="#6a6a6a" stroke-width="0.9"/>
<line x1="60.40" y1="30.06" x2="58.40" y2="30.06" stroke="#6a6a6a" stroke-width="0.9"/>
<text x="201.20" y="141.10" class="t" text-anchor="middle">80</text>
<text x="57.00" y="31.76" class="t" text-anchor="end">80</text>
<line x1="236.40" y1="134.30" x2="236.40" y2="136.30" stroke="#6a6a6a" stroke-width="0.9"/>
<line x1="60.40" y1="4.00" x2="58.40" y2="4.00" stroke="#6a6a6a" stroke-width="0.9"/>
<text x="236.40" y="141.10" class="t" text-anchor="middle">100</text>
<text x="57.00" y="5.70" class="t" text-anchor="end">100</text>
<text x="149.20" y="149.50" class="l" text-anchor="middle">Regression Predict</text>
<text transform="translate(44.40,69.15) rotate(-90)" class="l" text-anchor="middle">True</text>
<g fill="#0000ff" fill-opacity="0.42" stroke="#0000ff" stroke-opacity="0.42" stroke-width="0.3"><circle cx="335.9" cy="91.0" r="1.0"/><circle cx="330.6" cy="92.4" r="1.0"/><circle cx="326.3" cy="94.8" r="1.0"/><circle cx="326.6" cy="95.1" r="1.0"/><circle cx="329.2" cy="94.8" r="1.0"/><circle cx="322.5" cy="97.6" r="1.0"/><circle cx="323.9" cy="99.1" r="1.0"/><circle cx="332.0" cy="98.6" r="1.0"/><circle cx="332.5" cy="99.5" r="1.0"/><circle cx="335.4" cy="100.0" r="1.0"/><circle cx="331.1" cy="101.9" r="1.0"/><circle cx="331.6" cy="102.9" r="1.0"/><circle cx="337.8" cy="93.8" r="1.0"/><circle cx="340.2" cy="93.8" r="1.0"/><circle cx="340.6" cy="90.5" r="1.0"/><circle cx="343.5" cy="91.0" r="1.0"/><circle cx="342.5" cy="92.4" r="1.0"/><circle cx="341.6" cy="96.7" r="1.0"/><circle cx="340.6" cy="98.1" r="1.0"/><circle cx="347.8" cy="90.5" r="1.0"/><circle cx="349.7" cy="93.8" r="1.0"/><circle cx="349.4" cy="94.1" r="1.0"/><circle cx="350.7" cy="93.3" r="1.0"/><circle cx="348.8" cy="96.7" r="1.0"/><circle cx="347.8" cy="98.1" r="1.0"/><circle cx="346.8" cy="100.5" r="1.0"/><circle cx="351.1" cy="101.5" r="1.0"/><circle cx="347.8" cy="104.3" r="1.0"/><circle cx="318.7" cy="107.7" r="1.0"/><circle cx="325.8" cy="107.7" r="1.0"/><circle cx="327.3" cy="109.6" r="1.0"/><circle cx="331.1" cy="107.2" r="1.0"/><circle cx="318.7" cy="112.0" r="1.0"/><circle cx="320.1" cy="112.0" r="1.0"/><circle cx="321.5" cy="112.0" r="1.0"/><circle cx="343.8" cy="76.4" r="1.0"/><circle cx="347.2" cy="75.5" r="1.0"/><circle cx="351.5" cy="76.9" r="1.0"/><circle cx="355.8" cy="76.4" r="1.0"/><circle cx="356.1" cy="76.7" r="1.0"/><circle cx="357.2" cy="75.5" r="1.0"/><circle cx="359.1" cy="77.4" r="1.0"/><circle cx="363.4" cy="75.5" r="1.0"/><circle cx="367.7" cy="76.0" r="1.0"/><circle cx="369.6" cy="76.9" r="1.0"/><circle cx="369.9" cy="76.6" r="1.0"/><circle cx="371.5" cy="76.4" r="1.0"/><circle cx="378.2" cy="77.9" r="1.0"/><circle cx="341.0" cy="81.7" r="1.0"/><circle cx="344.8" cy="80.3" r="1.0"/><circle cx="351.0" cy="80.7" r="1.0"/><circle cx="353.4" cy="81.7" r="1.0"/><circle cx="359.1" cy="79.3" r="1.0"/><circle cx="360.5" cy="78.8" r="1.0"/><circle cx="362.4" cy="81.2" r="1.0"/><circle cx="364.3" cy="80.7" r="1.0"/><circle cx="366.7" cy="81.7" r="1.0"/><circle cx="368.6" cy="82.2" r="1.0"/><circle cx="371.0" cy="80.7" r="1.0"/><circle cx="375.3" cy="79.3" r="1.0"/><circle cx="379.1" cy="82.2" r="1.0"/><circle cx="344.3" cy="85.0" r="1.0"/><circle cx="344.6" cy="85.3" r="1.0"/><circle cx="343.8" cy="86.5" r="1.0"/><circle cx="349.5" cy="84.5" r="1.0"/><circle cx="357.7" cy="83.1" r="1.0"/><circle cx="358.6" cy="84.5" r="1.0"/><circle cx="360.5" cy="85.0" r="1.0"/><circle cx="361.5" cy="86.0" r="1.0"/><circle cx="360.0" cy="86.9" r="1.0"/><circle cx="365.3" cy="85.0" r="1.0"/><circle cx="367.2" cy="86.0" r="1.0"/><circle cx="370.5" cy="84.5" r="1.0"/><circle cx="351.5" cy="86.9" r="1.0"/><circle cx="354.8" cy="86.9" r="1.0"/><circle cx="355.3" cy="88.8" r="1.0"/><circle cx="356.2" cy="90.3" r="1.0"/><circle cx="362.4" cy="89.8" r="1.0"/><circle cx="368.6" cy="89.8" r="1.0"/><circle cx="375.8" cy="88.4" r="1.0"/><circle cx="341.9" cy="89.3" r="1.0"/><circle cx="344.8" cy="90.3" r="1.0"/><circle cx="342.9" cy="91.7" r="1.0"/><circle cx="348.6" cy="90.8" r="1.0"/><circle cx="350.0" cy="92.2" r="1.0"/><circle cx="350.5" cy="93.6" r="1.0"/><circle cx="349.1" cy="94.1" r="1.0"/><circle cx="356.7" cy="93.6" r="1.0"/><circle cx="358.6" cy="93.6" r="1.0"/><circle cx="362.9" cy="95.0" r="1.0"/><circle cx="341.4" cy="96.5" r="1.0"/><circle cx="341.0" cy="97.9" r="1.0"/><circle cx="348.6" cy="97.0" r="1.0"/><circle cx="348.1" cy="98.4" r="1.0"/><circle cx="346.7" cy="100.3" r="1.0"/><circle cx="351.0" cy="101.7" r="1.0"/><circle cx="348.1" cy="103.6" r="1.0"/><circle cx="337.4" cy="74.1" r="1.0"/><circle cx="342.6" cy="77.0" r="1.0"/><circle cx="344.5" cy="75.0" r="1.0"/><circle cx="340.7" cy="82.0" r="1.0"/><circle cx="344.1" cy="80.8" r="1.0"/><circle cx="343.6" cy="85.6" r="1.0"/><circle cx="329.7" cy="87.5" r="1.0"/><circle cx="328.7" cy="88.9" r="1.0"/><circle cx="333.5" cy="88.4" r="1.0"/><circle cx="339.3" cy="88.4" r="1.0"/><circle cx="335.9" cy="90.8" r="1.0"/><circle cx="330.7" cy="92.8" r="1.0"/><circle cx="338.8" cy="93.7" r="1.0"/><circle cx="341.7" cy="91.8" r="1.0"/><circle cx="360.9" cy="51.6" r="1.0"/><circle cx="372.0" cy="51.6" r="1.0"/><circle cx="373.6" cy="51.6" r="1.0"/><circle cx="374.0" cy="54.8" r="1.0"/><circle cx="370.5" cy="57.2" r="1.0"/><circle cx="357.3" cy="60.7" r="1.0"/><circle cx="358.5" cy="62.3" r="1.0"/><circle cx="351.8" cy="63.9" r="1.0"/><circle cx="361.7" cy="64.7" r="1.0"/><circle cx="366.1" cy="62.3" r="1.0"/><circle cx="368.9" cy="60.7" r="1.0"/><circle cx="371.3" cy="61.1" r="1.0"/><circle cx="372.8" cy="63.1" r="1.0"/><circle cx="374.4" cy="61.9" r="1.0"/><circle cx="365.7" cy="65.5" r="1.0"/><circle cx="364.5" cy="66.7" r="1.0"/><circle cx="368.9" cy="64.7" r="1.0"/><circle cx="371.7" cy="65.9" r="1.0"/><circle cx="360.9" cy="68.7" r="1.0"/><circle cx="363.3" cy="69.5" r="1.0"/><circle cx="357.7" cy="69.9" r="1.0"/><circle cx="356.9" cy="72.3" r="1.0"/><circle cx="349.4" cy="71.5" r="1.0"/><circle cx="346.2" cy="73.9" r="1.0"/><circle cx="353.8" cy="73.9" r="1.0"/><circle cx="366.5" cy="69.9" r="1.0"/><circle cx="368.9" cy="68.3" r="1.0"/><circle cx="370.5" cy="70.3" r="1.0"/><circle cx="372.8" cy="68.3" r="1.0"/><circle cx="374.0" cy="70.7" r="1.0"/><circle cx="371.3" cy="73.1" r="1.0"/><circle cx="366.5" cy="73.1" r="1.0"/><circle cx="368.9" cy="73.9" r="1.0"/><circle cx="373.2" cy="73.9" r="1.0"/><circle cx="380.2" cy="44.0" r="1.0"/><circle cx="382.6" cy="43.9" r="1.0"/><circle cx="384.8" cy="44.2" r="1.0"/><circle cx="386.9" cy="44.4" r="1.0"/><circle cx="389.5" cy="44.3" r="1.0"/><circle cx="391.5" cy="43.9" r="1.0"/><circle cx="393.9" cy="44.8" r="1.0"/><circle cx="395.9" cy="44.1" r="1.0"/><circle cx="377.8" cy="46.9" r="1.0"/><circle cx="383.9" cy="46.3" r="1.0"/><circle cx="387.1" cy="45.9" r="1.0"/><circle cx="389.2" cy="46.1" r="1.0"/><circle cx="390.8" cy="45.9" r="1.0"/><circle cx="393.2" cy="46.8" r="1.0"/><circle cx="395.0" cy="46.5" r="1.0"/><circle cx="379.1" cy="48.1" r="1.0"/><circle cx="381.6" cy="47.8" r="1.0"/><circle cx="384.4" cy="47.9" r="1.0"/><circle cx="387.7" cy="48.2" r="1.0"/><circle cx="389.8" cy="48.4" r="1.0"/><circle cx="392.4" cy="48.1" r="1.0"/><circle cx="394.8" cy="48.5" r="1.0"/><circle cx="372.4" cy="50.9" r="1.0"/><circle cx="375.2" cy="51.3" r="1.0"/><circle cx="378.6" cy="50.5" r="1.0"/><circle cx="381.6" cy="50.3" r="1.0"/><circle cx="383.4" cy="51.1" r="1.0"/><circle cx="385.7" cy="50.8" r="1.0"/><circle cx="388.2" cy="51.0" r="1.0"/><circle cx="391.3" cy="50.9" r="1.0"/><circle cx="393.3" cy="50.6" r="1.0"/><circle cx="374.1" cy="52.9" r="1.0"/><circle cx="379.8" cy="52.7" r="1.0"/><circle cx="382.5" cy="53.3" r="1.0"/><circle cx="384.8" cy="53.0" r="1.0"/><circle cx="386.9" cy="53.0" r="1.0"/><circle cx="393.1" cy="53.4" r="1.0"/><circle cx="395.9" cy="52.5" r="1.0"/><circle cx="373.8" cy="54.9" r="1.0"/><circle cx="376.1" cy="54.7" r="1.0"/><circle cx="383.2" cy="54.2" r="1.0"/><circle cx="385.3" cy="55.0" r="1.0"/><circle cx="387.6" cy="54.4" r="1.0"/><circle cx="390.4" cy="55.1" r="1.0"/><circle cx="392.7" cy="54.6" r="1.0"/><circle cx="373.3" cy="57.4" r="1.0"/><circle cx="376.1" cy="57.3" r="1.0"/><circle cx="378.2" cy="56.8" r="1.0"/><circle cx="380.8" cy="57.4" r="1.0"/><circle cx="386.1" cy="56.5" r="1.0"/><circle cx="388.3" cy="56.6" r="1.0"/><circle cx="392.2" cy="56.9" r="1.0"/><circle cx="374.7" cy="58.8" r="1.0"/><circle cx="376.7" cy="59.0" r="1.0"/><circle cx="379.6" cy="59.2" r="1.0"/><circle cx="384.5" cy="59.3" r="1.0"/><circle cx="386.7" cy="59.2" r="1.0"/><circle cx="390.6" cy="58.6" r="1.0"/><circle cx="394.0" cy="59.4" r="1.0"/><circle cx="390.1" cy="54.6" r="1.0"/><circle cx="382.9" cy="51.8" r="1.0"/><circle cx="378.6" cy="53.4" r="1.0"/><circle cx="377.9" cy="49.5" r="1.0"/><circle cx="380.1" cy="50.1" r="1.0"/><circle cx="382.1" cy="49.4" r="1.0"/><circle cx="377.0" cy="50.1" r="1.0"/><circle cx="378.5" cy="51.5" r="1.0"/><circle cx="377.4" cy="55.1" r="1.0"/><circle cx="386.2" cy="50.0" r="1.0"/><circle cx="380.8" cy="51.4" r="1.0"/><circle cx="382.5" cy="49.9" r="1.0"/><circle cx="389.7" cy="56.0" r="1.0"/><circle cx="384.0" cy="52.4" r="1.0"/><circle cx="378.3" cy="49.7" r="1.0"/><circle cx="382.1" cy="50.9" r="1.0"/><circle cx="389.4" cy="50.1" r="1.0"/><circle cx="377.3" cy="55.7" r="1.0"/><circle cx="384.9" cy="50.0" r="1.0"/><circle cx="385.1" cy="49.2" r="1.0"/><circle cx="384.9" cy="55.8" r="1.0"/><circle cx="389.9" cy="53.9" r="1.0"/><circle cx="380.9" cy="51.6" r="1.0"/><circle cx="379.5" cy="54.4" r="1.0"/><circle cx="385.0" cy="54.5" r="1.0"/><circle cx="381.9" cy="50.6" r="1.0"/><circle cx="389.2" cy="55.9" r="1.0"/><circle cx="389.8" cy="54.6" r="1.0"/><circle cx="389.3" cy="54.2" r="1.0"/><circle cx="380.4" cy="52.6" r="1.0"/><circle cx="385.3" cy="43.6" r="1.0"/><circle cx="380.4" cy="44.8" r="1.0"/><circle cx="383.9" cy="46.6" r="1.0"/><circle cx="394.3" cy="45.5" r="1.0"/><circle cx="394.1" cy="47.9" r="1.0"/><circle cx="394.3" cy="45.1" r="1.0"/><circle cx="383.3" cy="44.5" r="1.0"/><circle cx="383.0" cy="44.4" r="1.0"/><circle cx="389.4" cy="47.6" r="1.0"/><circle cx="392.6" cy="45.7" r="1.0"/><circle cx="389.8" cy="47.1" r="1.0"/><circle cx="381.3" cy="46.5" r="1.0"/><circle cx="391.4" cy="44.0" r="1.0"/><circle cx="394.2" cy="43.6" r="1.0"/><circle cx="398.4" cy="43.6" r="1.0"/><circle cx="401.2" cy="45.0" r="1.0"/><circle cx="408.6" cy="45.0" r="1.0"/><circle cx="392.8" cy="46.4" r="1.0"/><circle cx="395.6" cy="46.8" r="1.0"/><circle cx="402.6" cy="47.1" r="1.0"/><circle cx="404.0" cy="47.8" r="1.0"/><circle cx="390.7" cy="49.2" r="1.0"/><circle cx="394.2" cy="49.6" r="1.0"/><circle cx="399.8" cy="48.5" r="1.0"/><circle cx="398.4" cy="51.3" r="1.0"/><circle cx="400.5" cy="52.0" r="1.0"/><circle cx="406.5" cy="51.7" r="1.0"/><circle cx="406.8" cy="53.1" r="1.0"/><circle cx="392.1" cy="54.1" r="1.0"/><circle cx="395.6" cy="54.5" r="1.0"/><circle cx="399.1" cy="55.2" r="1.0"/><circle cx="402.3" cy="54.8" r="1.0"/><circle cx="404.0" cy="56.6" r="1.0"/><circle cx="399.8" cy="57.6" r="1.0"/><circle cx="394.2" cy="56.9" r="1.0"/><circle cx="391.4" cy="58.3" r="1.0"/><circle cx="399.8" cy="58.7" r="1.0"/><circle cx="367.2" cy="61.0" r="1.0"/><circle cx="370.0" cy="60.2" r="1.0"/><circle cx="372.3" cy="61.0" r="1.0"/><circle cx="375.4" cy="61.0" r="1.0"/><circle cx="377.8" cy="60.1" r="1.0"/><circle cx="380.2" cy="61.4" r="1.0"/><circle cx="383.3" cy="59.5" r="1.0"/><circle cx="386.7" cy="59.5" r="1.0"/><circle cx="390.1" cy="61.0" r="1.0"/><circle cx="391.4" cy="61.1" r="1.0"/><circle cx="396.9" cy="60.7" r="1.0"/><circle cx="399.7" cy="60.4" r="1.0"/><circle cx="365.7" cy="63.4" r="1.0"/><circle cx="369.2" cy="65.0" r="1.0"/><circle cx="371.7" cy="65.6" r="1.0"/><circle cx="374.4" cy="65.5" r="1.0"/><circle cx="380.6" cy="63.9" r="1.0"/><circle cx="382.9" cy="64.1" r="1.0"/><circle cx="386.8" cy="64.8" r="1.0"/><circle cx="389.6" cy="64.4" r="1.0"/><circle cx="367.6" cy="70.0" r="1.0"/><circle cx="370.6" cy="68.9" r="1.0"/><circle cx="373.7" cy="70.0" r="1.0"/><circle cx="377.3" cy="70.0" r="1.0"/><circle cx="380.3" cy="69.1" r="1.0"/><circle cx="382.7" cy="67.8" r="1.0"/><circle cx="387.0" cy="68.2" r="1.0"/><circle cx="366.5" cy="73.9" r="1.0"/><circle cx="369.5" cy="73.1" r="1.0"/><circle cx="372.8" cy="73.3" r="1.0"/><circle cx="377.3" cy="73.2" r="1.0"/><circle cx="380.3" cy="73.9" r="1.0"/><circle cx="381.9" cy="73.3" r="1.0"/><circle cx="366.7" cy="77.0" r="1.0"/><circle cx="369.0" cy="77.5" r="1.0"/><circle cx="370.7" cy="78.1" r="1.0"/><circle cx="374.8" cy="77.4" r="1.0"/><circle cx="378.5" cy="77.5" r="1.0"/><circle cx="381.2" cy="78.0" r="1.0"/><circle cx="366.0" cy="82.9" r="1.0"/><circle cx="368.8" cy="83.9" r="1.0"/><circle cx="370.9" cy="83.7" r="1.0"/><circle cx="380.7" cy="82.2" r="1.0"/><circle cx="376.5" cy="87.7" r="1.0"/><circle cx="380.7" cy="63.0" r="1.0"/><circle cx="384.5" cy="63.0" r="1.0"/><circle cx="387.4" cy="62.5" r="1.0"/><circle cx="389.8" cy="64.9" r="1.0"/><circle cx="396.5" cy="62.5" r="1.0"/><circle cx="376.0" cy="67.7" r="1.0"/><circle cx="382.6" cy="66.8" r="1.0"/><circle cx="386.5" cy="66.3" r="1.0"/><circle cx="377.9" cy="70.1" r="1.0"/><circle cx="382.6" cy="68.7" r="1.0"/><circle cx="386.5" cy="70.1" r="1.0"/><circle cx="383.1" cy="71.5" r="1.0"/><circle cx="376.0" cy="72.0" r="1.0"/><circle cx="379.8" cy="73.0" r="1.0"/><circle cx="381.7" cy="75.8" r="1.0"/><circle cx="380.7" cy="77.3" r="1.0"/><circle cx="377.9" cy="77.8" r="1.0"/><circle cx="375.5" cy="79.2" r="1.0"/><circle cx="380.3" cy="82.0" r="1.0"/><circle cx="376.0" cy="88.7" r="1.0"/><circle cx="377.5" cy="46.7" r="1.0"/><circle cx="380.2" cy="45.2" r="1.0"/><circle cx="382.9" cy="45.2" r="1.0"/><circle cx="386.0" cy="45.6" r="1.0"/><circle cx="389.0" cy="44.1" r="1.0"/><circle cx="373.0" cy="51.0" r="1.0"/><circle cx="379.1" cy="50.2" r="1.0"/><circle cx="382.1" cy="50.2" r="1.0"/><circle cx="385.2" cy="48.3" r="1.0"/><circle cx="387.5" cy="48.7" r="1.0"/><circle cx="337.2" cy="89.2" r="1.0"/><circle cx="343.0" cy="90.9" r="1.0"/><circle cx="345.8" cy="91.2" r="1.0"/><circle cx="345.4" cy="76.7" r="1.0"/><circle cx="357.4" cy="76.9" r="1.0"/><circle cx="379.1" cy="76.5" r="1.0"/><circle cx="347.4" cy="80.2" r="1.0"/><circle cx="350.0" cy="82.5" r="1.0"/><circle cx="344.7" cy="87.6" r="1.0"/><circle cx="347.6" cy="83.9" r="1.0"/><circle cx="353.5" cy="87.4" r="1.0"/><circle cx="358.7" cy="89.7" r="1.0"/><circle cx="337.9" cy="71.7" r="1.0"/><circle cx="329.9" cy="87.7" r="1.0"/><circle cx="332.0" cy="88.4" r="1.0"/><circle cx="372.1" cy="52.4" r="1.0"/><circle cx="352.9" cy="62.3" r="1.0"/><circle cx="361.9" cy="64.7" r="1.0"/><circle cx="370.3" cy="61.9" r="1.0"/><circle cx="372.0" cy="61.4" r="1.0"/><circle cx="374.1" cy="63.9" r="1.0"/><circle cx="364.2" cy="66.7" r="1.0"/><circle cx="368.2" cy="65.1" r="1.0"/><circle cx="373.0" cy="65.0" r="1.0"/><circle cx="359.0" cy="67.2" r="1.0"/><circle cx="364.0" cy="69.6" r="1.0"/><circle cx="356.3" cy="70.4" r="1.0"/><circle cx="348.5" cy="73.5" r="1.0"/><circle cx="365.7" cy="68.9" r="1.0"/><circle cx="370.2" cy="70.0" r="1.0"/><circle cx="375.4" cy="67.8" r="1.0"/><circle cx="374.7" cy="69.8" r="1.0"/><circle cx="368.9" cy="74.1" r="1.0"/><circle cx="381.6" cy="41.0" r="1.0"/><circle cx="387.2" cy="41.6" r="1.0"/><circle cx="391.0" cy="44.6" r="1.0"/><circle cx="396.1" cy="44.7" r="1.0"/><circle cx="382.7" cy="46.3" r="1.0"/><circle cx="391.2" cy="47.0" r="1.0"/><circle cx="379.5" cy="50.0" r="1.0"/><circle cx="389.2" cy="46.9" r="1.0"/><circle cx="394.7" cy="48.0" r="1.0"/><circle cx="373.2" cy="50.4" r="1.0"/><circle cx="382.8" cy="52.0" r="1.0"/><circle cx="373.5" cy="52.7" r="1.0"/><circle cx="382.1" cy="53.9" r="1.0"/><circle cx="385.2" cy="51.5" r="1.0"/><circle cx="392.3" cy="53.0" r="1.0"/><circle cx="395.6" cy="55.2" r="1.0"/><circle cx="385.9" cy="52.6" r="1.0"/><circle cx="387.3" cy="53.9" r="1.0"/><circle cx="390.7" cy="54.9" r="1.0"/><circle cx="394.1" cy="54.5" r="1.0"/><circle cx="373.8" cy="58.2" r="1.0"/><circle cx="379.3" cy="56.1" r="1.0"/><circle cx="388.3" cy="58.1" r="1.0"/><circle cx="392.0" cy="56.6" r="1.0"/><circle cx="375.8" cy="58.7" r="1.0"/><circle cx="379.4" cy="59.6" r="1.0"/><circle cx="394.4" cy="61.2" r="1.0"/><circle cx="379.0" cy="49.8" r="1.0"/><circle cx="383.0" cy="49.9" r="1.0"/><circle cx="377.4" cy="50.0" r="1.0"/><circle cx="385.8" cy="51.1" r="1.0"/><circle cx="382.4" cy="49.1" r="1.0"/><circle cx="381.7" cy="51.3" r="1.0"/><circle cx="379.3" cy="49.8" r="1.0"/><circle cx="381.6" cy="50.7" r="1.0"/><circle cx="388.7" cy="49.3" r="1.0"/><circle cx="382.6" cy="55.8" r="1.0"/><circle cx="390.7" cy="53.6" r="1.0"/><circle cx="383.1" cy="51.6" r="1.0"/><circle cx="390.4" cy="54.2" r="1.0"/><circle cx="379.3" cy="55.2" r="1.0"/><circle cx="393.6" cy="45.4" r="1.0"/><circle cx="392.5" cy="48.9" r="1.0"/><circle cx="397.9" cy="44.5" r="1.0"/><circle cx="400.4" cy="43.9" r="1.0"/><circle cx="392.4" cy="47.0" r="1.0"/><circle cx="395.5" cy="49.2" r="1.0"/><circle cx="401.1" cy="48.1" r="1.0"/><circle cx="405.6" cy="47.9" r="1.0"/><circle cx="399.0" cy="46.6" r="1.0"/><circle cx="396.9" cy="51.3" r="1.0"/><circle cx="399.1" cy="52.9" r="1.0"/><circle cx="391.9" cy="53.8" r="1.0"/><circle cx="392.9" cy="54.3" r="1.0"/><circle cx="399.4" cy="52.5" r="1.0"/><circle cx="401.4" cy="52.4" r="1.0"/><circle cx="403.4" cy="54.6" r="1.0"/><circle cx="370.0" cy="61.1" r="1.0"/><circle cx="376.9" cy="58.2" r="1.0"/><circle cx="379.4" cy="61.3" r="1.0"/><circle cx="389.0" cy="59.2" r="1.0"/><circle cx="394.2" cy="59.4" r="1.0"/><circle cx="397.3" cy="58.2" r="1.0"/><circle cx="372.3" cy="63.4" r="1.0"/><circle cx="372.2" cy="64.3" r="1.0"/><circle cx="374.1" cy="66.1" r="1.0"/><circle cx="385.7" cy="64.0" r="1.0"/><circle cx="389.3" cy="65.3" r="1.0"/><circle cx="371.1" cy="70.2" r="1.0"/><circle cx="372.5" cy="68.7" r="1.0"/><circle cx="379.9" cy="70.7" r="1.0"/><circle cx="381.9" cy="67.3" r="1.0"/><circle cx="378.7" cy="76.9" r="1.0"/><circle cx="374.8" cy="87.7" r="1.0"/><circle cx="379.5" cy="63.0" r="1.0"/><circle cx="386.1" cy="63.0" r="1.0"/><circle cx="388.0" cy="66.2" r="1.0"/><circle cx="386.5" cy="66.4" r="1.0"/><circle cx="375.7" cy="68.5" r="1.0"/><circle cx="379.1" cy="80.9" r="1.0"/><circle cx="376.4" cy="47.6" r="1.0"/><circle cx="381.3" cy="43.9" r="1.0"/></g>
<line x1="281.50" y1="134.30" x2="457.30" y2="4.00" stroke="#fa8072" stroke-opacity="0.8" stroke-width="1.3"/>
<rect x="281.50" y="4.00" width="175.80" height="130.30" fill="none" stroke="#6a6a6a" stroke-width="0.9"/>
<line x1="281.50" y1="134.30" x2="281.50" y2="136.30" stroke="#6a6a6a" stroke-width="0.9"/>
<line x1="281.50" y1="134.30" x2="279.50" y2="134.30" stroke="#6a6a6a" stroke-width="0.9"/>
<text x="281.50" y="141.10" class="t" text-anchor="middle">0</text>
<text x="278.10" y="136.00" class="t" text-anchor="end">0</text>
<line x1="316.66" y1="134.30" x2="316.66" y2="136.30" stroke="#6a6a6a" stroke-width="0.9"/>
<line x1="281.50" y1="108.24" x2="279.50" y2="108.24" stroke="#6a6a6a" stroke-width="0.9"/>
<text x="316.66" y="141.10" class="t" text-anchor="middle">20</text>
<text x="278.10" y="109.94" class="t" text-anchor="end">20</text>
<line x1="351.82" y1="134.30" x2="351.82" y2="136.30" stroke="#6a6a6a" stroke-width="0.9"/>
<line x1="281.50" y1="82.18" x2="279.50" y2="82.18" stroke="#6a6a6a" stroke-width="0.9"/>
<text x="351.82" y="141.10" class="t" text-anchor="middle">40</text>
<text x="278.10" y="83.88" class="t" text-anchor="end">40</text>
<line x1="386.98" y1="134.30" x2="386.98" y2="136.30" stroke="#6a6a6a" stroke-width="0.9"/>
<line x1="281.50" y1="56.12" x2="279.50" y2="56.12" stroke="#6a6a6a" stroke-width="0.9"/>
<text x="386.98" y="141.10" class="t" text-anchor="middle">60</text>
<text x="278.10" y="57.82" class="t" text-anchor="end">60</text>
<line x1="422.14" y1="134.30" x2="422.14" y2="136.30" stroke="#6a6a6a" stroke-width="0.9"/>
<line x1="281.50" y1="30.06" x2="279.50" y2="30.06" stroke="#6a6a6a" stroke-width="0.9"/>
<text x="422.14" y="141.10" class="t" text-anchor="middle">80</text>
<text x="278.10" y="31.76" class="t" text-anchor="end">80</text>
<line x1="457.30" y1="134.30" x2="457.30" y2="136.30" stroke="#6a6a6a" stroke-width="0.9"/>
<line x1="281.50" y1="4.00" x2="279.50" y2="4.00" stroke="#6a6a6a" stroke-width="0.9"/>
<text x="457.30" y="141.10" class="t" text-anchor="middle">100</text>
<text x="278.10" y="5.70" class="t" text-anchor="end">100</text>
<text x="369.70" y="149.50" class="l" text-anchor="middle">Regression Predict</text>
<text transform="translate(264.70,69.15) rotate(-90)" class="l" text-anchor="middle">True</text>
<g fill="#0000ff" fill-opacity="0.42" stroke="#0000ff" stroke-opacity="0.42" stroke-width="0.3"><circle cx="553.4" cy="85.5" r="1.0"/><circle cx="558.6" cy="86.0" r="1.0"/><circle cx="567.2" cy="85.5" r="1.0"/><circle cx="550.0" cy="91.2" r="1.0"/><circle cx="552.0" cy="92.6" r="1.0"/><circle cx="557.2" cy="91.2" r="1.0"/><circle cx="556.3" cy="94.1" r="1.0"/><circle cx="560.5" cy="88.8" r="1.0"/><circle cx="562.5" cy="89.3" r="1.0"/><circle cx="561.0" cy="92.6" r="1.0"/><circle cx="561.5" cy="92.2" r="1.0"/><circle cx="564.8" cy="90.3" r="1.0"/><circle cx="566.3" cy="89.3" r="1.0"/><circle cx="565.3" cy="93.6" r="1.0"/><circle cx="566.8" cy="94.5" r="1.0"/><circle cx="569.6" cy="88.8" r="1.0"/><circle cx="547.2" cy="96.5" r="1.0"/><circle cx="551.0" cy="97.9" r="1.0"/><circle cx="554.8" cy="98.8" r="1.0"/><circle cx="565.8" cy="98.8" r="1.0"/><circle cx="551.0" cy="102.0" r="1.0"/><circle cx="558.6" cy="101.7" r="1.0"/><circle cx="545.8" cy="103.1" r="1.0"/><circle cx="542.4" cy="104.1" r="1.0"/><circle cx="537.6" cy="105.5" r="1.0"/><circle cx="535.7" cy="107.0" r="1.0"/><circle cx="542.4" cy="107.0" r="1.0"/><circle cx="543.4" cy="107.9" r="1.0"/><circle cx="545.3" cy="107.9" r="1.0"/><circle cx="545.0" cy="107.5" r="1.0"/><circle cx="552.0" cy="105.5" r="1.0"/><circle cx="553.4" cy="105.5" r="1.0"/><circle cx="555.3" cy="107.9" r="1.0"/><circle cx="558.2" cy="107.0" r="1.0"/><circle cx="548.1" cy="109.8" r="1.0"/><circle cx="544.8" cy="110.8" r="1.0"/><circle cx="538.6" cy="110.8" r="1.0"/><circle cx="541.5" cy="114.1" r="1.0"/><circle cx="543.8" cy="114.1" r="1.0"/><circle cx="546.7" cy="102.2" r="1.0"/><circle cx="536.3" cy="106.9" r="1.0"/><circle cx="538.2" cy="105.7" r="1.0"/><circle cx="542.5" cy="104.5" r="1.0"/><circle cx="542.9" cy="106.9" r="1.0"/><circle cx="545.8" cy="107.9" r="1.0"/><circle cx="545.3" cy="103.6" r="1.0"/><circle cx="548.2" cy="109.3" r="1.0"/><circle cx="538.2" cy="110.8" r="1.0"/><circle cx="545.3" cy="110.8" r="1.0"/><circle cx="541.0" cy="115.0" r="1.0"/><circle cx="543.4" cy="115.0" r="1.0"/><circle cx="571.0" cy="86.0" r="1.0"/><circle cx="570.5" cy="88.8" r="1.0"/><circle cx="576.2" cy="87.4" r="1.0"/><circle cx="581.0" cy="85.0" r="1.0"/><circle cx="584.3" cy="85.0" r="1.0"/><circle cx="587.2" cy="85.0" r="1.0"/><circle cx="582.4" cy="88.8" r="1.0"/><circle cx="581.9" cy="91.2" r="1.0"/><circle cx="589.6" cy="90.3" r="1.0"/><circle cx="577.2" cy="92.6" r="1.0"/><circle cx="588.1" cy="94.1" r="1.0"/><circle cx="581.5" cy="96.5" r="1.0"/><circle cx="607.7" cy="91.2" r="1.0"/><circle cx="602.0" cy="100.3" r="1.0"/><circle cx="577.7" cy="64.8" r="1.0"/><circle cx="566.3" cy="72.6" r="1.0"/><circle cx="573.9" cy="72.4" r="1.0"/><circle cx="576.3" cy="72.9" r="1.0"/><circle cx="579.1" cy="72.4" r="1.0"/><circle cx="572.9" cy="75.3" r="1.0"/><circle cx="575.3" cy="74.8" r="1.0"/><circle cx="567.7" cy="77.0" r="1.0"/><circle cx="568.2" cy="77.4" r="1.0"/><circle cx="576.3" cy="77.7" r="1.0"/><circle cx="569.6" cy="79.6" r="1.0"/><circle cx="573.9" cy="80.0" r="1.0"/><circle cx="571.0" cy="82.0" r="1.0"/><circle cx="565.3" cy="83.1" r="1.0"/><circle cx="553.4" cy="84.8" r="1.0"/><circle cx="558.6" cy="85.8" r="1.0"/><circle cx="568.2" cy="85.8" r="1.0"/><circle cx="571.5" cy="85.3" r="1.0"/><circle cx="573.9" cy="83.4" r="1.0"/><circle cx="576.3" cy="87.2" r="1.0"/><circle cx="579.1" cy="80.5" r="1.0"/><circle cx="560.5" cy="88.6" r="1.0"/><circle cx="562.4" cy="88.6" r="1.0"/><circle cx="570.5" cy="88.6" r="1.0"/><circle cx="583.1" cy="55.0" r="1.0"/><circle cx="590.8" cy="55.5" r="1.0"/><circle cx="598.4" cy="55.5" r="1.0"/><circle cx="601.3" cy="55.5" r="1.0"/><circle cx="605.1" cy="55.5" r="1.0"/><circle cx="586.5" cy="58.8" r="1.0"/><circle cx="586.9" cy="60.3" r="1.0"/><circle cx="590.3" cy="60.3" r="1.0"/><circle cx="591.7" cy="61.7" r="1.0"/><circle cx="595.0" cy="59.3" r="1.0"/><circle cx="597.4" cy="60.7" r="1.0"/><circle cx="602.7" cy="58.8" r="1.0"/><circle cx="603.6" cy="61.2" r="1.0"/><circle cx="609.8" cy="60.3" r="1.0"/><circle cx="595.0" cy="62.2" r="1.0"/><circle cx="577.9" cy="64.5" r="1.0"/><circle cx="580.7" cy="64.1" r="1.0"/><circle cx="584.5" cy="64.5" r="1.0"/><circle cx="582.2" cy="66.5" r="1.0"/><circle cx="590.3" cy="66.5" r="1.0"/><circle cx="591.7" cy="64.5" r="1.0"/><circle cx="598.9" cy="66.9" r="1.0"/><circle cx="603.6" cy="65.5" r="1.0"/><circle cx="603.2" cy="68.4" r="1.0"/><circle cx="605.1" cy="66.5" r="1.0"/><circle cx="613.2" cy="66.5" r="1.0"/><circle cx="590.8" cy="70.3" r="1.0"/><circle cx="592.2" cy="71.7" r="1.0"/><circle cx="592.7" cy="69.3" r="1.0"/><circle cx="596.0" cy="72.7" r="1.0"/><circle cx="597.4" cy="72.7" r="1.0"/><circle cx="596.5" cy="75.5" r="1.0"/><circle cx="601.3" cy="77.0" r="1.0"/><circle cx="585.0" cy="69.8" r="1.0"/><circle cx="587.4" cy="70.3" r="1.0"/><circle cx="579.3" cy="72.7" r="1.0"/><circle cx="576.0" cy="73.1" r="1.0"/><circle cx="575.0" cy="77.9" r="1.0"/><circle cx="586.9" cy="79.3" r="1.0"/><circle cx="591.2" cy="79.3" r="1.0"/><circle cx="580.3" cy="80.8" r="1.0"/><circle cx="582.2" cy="81.7" r="1.0"/><circle cx="584.5" cy="82.7" r="1.0"/><circle cx="580.7" cy="83.6" r="1.0"/><circle cx="600.8" cy="83.2" r="1.0"/><circle cx="603.6" cy="83.2" r="1.0"/><circle cx="587.4" cy="84.1" r="1.0"/><circle cx="603.1" cy="44.3" r="1.0"/><circle cx="607.0" cy="44.1" r="1.0"/><circle cx="617.0" cy="43.8" r="1.0"/><circle cx="618.9" cy="43.8" r="1.0"/><circle cx="620.8" cy="44.3" r="1.0"/><circle cx="611.7" cy="45.8" r="1.0"/><circle cx="613.6" cy="45.8" r="1.0"/><circle cx="603.6" cy="48.6" r="1.0"/><circle cx="605.5" cy="49.1" r="1.0"/><circle cx="610.3" cy="48.6" r="1.0"/><circle cx="611.3" cy="50.0" r="1.0"/><circle cx="615.5" cy="47.7" r="1.0"/><circle cx="617.5" cy="48.1" r="1.0"/><circle cx="620.3" cy="47.2" r="1.0"/><circle cx="599.3" cy="52.0" r="1.0"/><circle cx="600.8" cy="52.0" r="1.0"/><circle cx="605.5" cy="53.4" r="1.0"/><circle cx="603.6" cy="54.3" r="1.0"/><circle cx="608.9" cy="51.5" r="1.0"/><circle cx="609.8" cy="52.9" r="1.0"/><circle cx="612.7" cy="52.9" r="1.0"/><circle cx="616.0" cy="51.0" r="1.0"/><circle cx="618.4" cy="51.5" r="1.0"/><circle cx="620.3" cy="52.0" r="1.0"/><circle cx="617.9" cy="53.4" r="1.0"/><circle cx="621.3" cy="55.3" r="1.0"/><circle cx="597.9" cy="55.3" r="1.0"/><circle cx="599.3" cy="55.3" r="1.0"/><circle cx="604.6" cy="55.8" r="1.0"/><circle cx="612.7" cy="55.8" r="1.0"/><circle cx="591.2" cy="55.3" r="1.0"/><circle cx="586.0" cy="58.6" r="1.0"/><circle cx="594.5" cy="58.6" r="1.0"/><circle cx="601.7" cy="58.2" r="1.0"/><circle cx="619.6" cy="44.1" r="1.0"/><circle cx="621.1" cy="44.5" r="1.0"/><circle cx="620.1" cy="46.9" r="1.0"/><circle cx="614.4" cy="46.0" r="1.0"/><circle cx="627.3" cy="47.9" r="1.0"/><circle cx="626.8" cy="49.3" r="1.0"/><circle cx="630.6" cy="47.9" r="1.0"/><circle cx="623.0" cy="50.8" r="1.0"/><circle cx="618.2" cy="51.7" r="1.0"/><circle cx="619.2" cy="52.7" r="1.0"/><circle cx="622.5" cy="53.1" r="1.0"/><circle cx="613.0" cy="55.5" r="1.0"/><circle cx="622.0" cy="55.5" r="1.0"/><circle cx="619.6" cy="54.6" r="1.0"/><circle cx="628.2" cy="55.5" r="1.0"/><circle cx="615.8" cy="59.8" r="1.0"/><circle cx="621.5" cy="60.8" r="1.0"/><circle cx="614.9" cy="64.6" r="1.0"/><circle cx="614.9" cy="64.9" r="1.0"/><circle cx="613.4" cy="67.3" r="1.0"/><circle cx="578.8" cy="50.8" r="1.0"/><circle cx="582.9" cy="54.9" r="1.0"/><circle cx="586.1" cy="59.0" r="1.0"/><circle cx="587.2" cy="60.1" r="1.0"/><circle cx="580.7" cy="63.5" r="1.0"/></g>
<line x1="503.50" y1="134.30" x2="679.30" y2="4.00" stroke="#fa8072" stroke-opacity="0.8" stroke-width="1.3"/>
<rect x="503.50" y="4.00" width="175.80" height="130.30" fill="none" stroke="#6a6a6a" stroke-width="0.9"/>
<line x1="503.50" y1="134.30" x2="503.50" y2="136.30" stroke="#6a6a6a" stroke-width="0.9"/>
<line x1="503.50" y1="134.30" x2="501.50" y2="134.30" stroke="#6a6a6a" stroke-width="0.9"/>
<text x="503.50" y="141.10" class="t" text-anchor="middle">0</text>
<text x="500.10" y="136.00" class="t" text-anchor="end">0</text>
<line x1="538.66" y1="134.30" x2="538.66" y2="136.30" stroke="#6a6a6a" stroke-width="0.9"/>
<line x1="503.50" y1="108.24" x2="501.50" y2="108.24" stroke="#6a6a6a" stroke-width="0.9"/>
<text x="538.66" y="141.10" class="t" text-anchor="middle">20</text>
<text x="500.10" y="109.94" class="t" text-anchor="end">20</text>
<line x1="573.82" y1="134.30" x2="573.82" y2="136.30" stroke="#6a6a6a" stroke-width="0.9"/>
<line x1="503.50" y1="82.18" x2="501.50" y2="82.18" stroke="#6a6a6a" stroke-width="0.9"/>
<text x="573.82" y="141.10" class="t" text-anchor="middle">40</text>
<text x="500.10" y="83.88" class="t" text-anchor="end">40</text>
<line x1="608.98" y1="134.30" x2="608.98" y2="136.30" stroke="#6a6a6a" stroke-width="0.9"/>
<line x1="503.50" y1="56.12" x2="501.50" y2="56.12" stroke="#6a6a6a" stroke-width="0.9"/>
<text x="608.98" y="141.10" class="t" text-anchor="middle">60</text>
<text x="500.10" y="57.82" class="t" text-anchor="end">60</text>
<line x1="644.14" y1="134.30" x2="644.14" y2="136.30" stroke="#6a6a6a" stroke-width="0.9"/>
<line x1="503.50" y1="30.06" x2="501.50" y2="30.06" stroke="#6a6a6a" stroke-width="0.9"/>
<text x="644.14" y="141.10" class="t" text-anchor="middle">80</text>
<text x="500.10" y="31.76" class="t" text-anchor="end">80</text>
<line x1="679.30" y1="134.30" x2="679.30" y2="136.30" stroke="#6a6a6a" stroke-width="0.9"/>
<line x1="503.50" y1="4.00" x2="501.50" y2="4.00" stroke="#6a6a6a" stroke-width="0.9"/>
<text x="679.30" y="141.10" class="t" text-anchor="middle">100</text>
<text x="500.10" y="5.70" class="t" text-anchor="end">100</text>
<text x="591.70" y="149.50" class="l" text-anchor="middle">Regression Predict</text>
<text transform="translate(486.70,69.15) rotate(-90)" class="l" text-anchor="middle">True</text>
<g fill="#0000ff" fill-opacity="0.42" stroke="#0000ff" stroke-opacity="0.42" stroke-width="0.3"><circle cx="119.4" cy="256.0" r="1.0"/><circle cx="125.6" cy="255.6" r="1.0"/><circle cx="136.5" cy="255.6" r="1.0"/><circle cx="137.6" cy="255.4" r="1.0"/><circle cx="119.2" cy="256.5" r="1.0"/><circle cx="116.9" cy="255.4" r="1.0"/><circle cx="130.2" cy="255.9" r="1.0"/><circle cx="131.3" cy="256.0" r="1.0"/><circle cx="132.7" cy="255.7" r="1.0"/><circle cx="140.6" cy="254.0" r="1.0"/><circle cx="138.8" cy="255.0" r="1.0"/><circle cx="141.1" cy="254.1" r="1.0"/><circle cx="141.1" cy="254.4" r="1.0"/><circle cx="118.3" cy="255.2" r="1.0"/><circle cx="127.3" cy="255.0" r="1.0"/><circle cx="137.6" cy="255.1" r="1.0"/><circle cx="138.7" cy="255.2" r="1.0"/><circle cx="132.4" cy="253.4" r="1.0"/><circle cx="115.8" cy="253.7" r="1.0"/><circle cx="129.7" cy="252.8" r="1.0"/><circle cx="136.1" cy="253.8" r="1.0"/><circle cx="128.8" cy="253.3" r="1.0"/><circle cx="131.7" cy="253.8" r="1.0"/><circle cx="133.2" cy="253.9" r="1.0"/><circle cx="135.4" cy="253.1" r="1.0"/><circle cx="143.9" cy="252.8" r="1.0"/><circle cx="134.6" cy="253.4" r="1.0"/><circle cx="127.2" cy="251.5" r="1.0"/><circle cx="142.8" cy="252.6" r="1.0"/><circle cx="142.3" cy="251.7" r="1.0"/><circle cx="128.6" cy="251.7" r="1.0"/><circle cx="123.4" cy="251.8" r="1.0"/><circle cx="139.5" cy="252.0" r="1.0"/><circle cx="134.3" cy="252.1" r="1.0"/><circle cx="158.1" cy="251.8" r="1.0"/><circle cx="130.3" cy="252.4" r="1.0"/><circle cx="131.5" cy="251.7" r="1.0"/><circle cx="138.8" cy="251.4" r="1.0"/><circle cx="140.3" cy="250.3" r="1.0"/><circle cx="131.0" cy="250.8" r="1.0"/><circle cx="142.3" cy="250.3" r="1.0"/><circle cx="118.9" cy="250.7" r="1.0"/><circle cx="125.4" cy="251.3" r="1.0"/><circle cx="133.7" cy="251.3" r="1.0"/><circle cx="136.1" cy="250.4" r="1.0"/><circle cx="126.6" cy="251.1" r="1.0"/><circle cx="139.1" cy="251.2" r="1.0"/><circle cx="145.5" cy="250.9" r="1.0"/><circle cx="129.2" cy="249.6" r="1.0"/><circle cx="139.0" cy="248.9" r="1.0"/><circle cx="140.2" cy="249.7" r="1.0"/><circle cx="140.4" cy="249.4" r="1.0"/><circle cx="125.7" cy="249.3" r="1.0"/><circle cx="134.9" cy="250.0" r="1.0"/><circle cx="140.2" cy="250.0" r="1.0"/><circle cx="145.4" cy="249.8" r="1.0"/><circle cx="142.8" cy="250.1" r="1.0"/><circle cx="144.9" cy="249.2" r="1.0"/><circle cx="147.0" cy="249.3" r="1.0"/><circle cx="138.5" cy="248.0" r="1.0"/><circle cx="142.0" cy="248.3" r="1.0"/><circle cx="136.2" cy="248.6" r="1.0"/><circle cx="137.9" cy="248.4" r="1.0"/><circle cx="149.0" cy="248.5" r="1.0"/><circle cx="145.9" cy="247.5" r="1.0"/><circle cx="138.2" cy="248.0" r="1.0"/><circle cx="146.2" cy="248.2" r="1.0"/><circle cx="147.7" cy="248.1" r="1.0"/><circle cx="137.1" cy="248.0" r="1.0"/><circle cx="141.5" cy="247.5" r="1.0"/><circle cx="133.1" cy="246.5" r="1.0"/><circle cx="144.6" cy="247.0" r="1.0"/><circle cx="133.1" cy="247.2" r="1.0"/><circle cx="137.2" cy="247.1" r="1.0"/><circle cx="141.1" cy="246.3" r="1.0"/><circle cx="140.8" cy="246.8" r="1.0"/><circle cx="139.5" cy="246.9" r="1.0"/><circle cx="137.6" cy="246.3" r="1.0"/><circle cx="145.4" cy="246.4" r="1.0"/><circle cx="151.1" cy="246.3" r="1.0"/><circle cx="143.8" cy="247.4" r="1.0"/><circle cx="134.3" cy="246.2" r="1.0"/><circle cx="157.0" cy="245.1" r="1.0"/><circle cx="130.4" cy="245.0" r="1.0"/><circle cx="148.3" cy="245.0" r="1.0"/><circle cx="149.3" cy="245.4" r="1.0"/><circle cx="145.9" cy="245.2" r="1.0"/><circle cx="138.4" cy="246.0" r="1.0"/><circle cx="139.7" cy="245.7" r="1.0"/><circle cx="138.4" cy="245.1" r="1.0"/><circle cx="147.3" cy="245.6" r="1.0"/><circle cx="121.8" cy="245.5" r="1.0"/><circle cx="137.0" cy="245.1" r="1.0"/><circle cx="141.8" cy="245.9" r="1.0"/><circle cx="158.8" cy="243.8" r="1.0"/><circle cx="154.7" cy="243.6" r="1.0"/><circle cx="147.2" cy="244.7" r="1.0"/><circle cx="135.0" cy="244.1" r="1.0"/><circle cx="143.8" cy="244.0" r="1.0"/><circle cx="130.6" cy="244.8" r="1.0"/><circle cx="151.7" cy="243.7" r="1.0"/><circle cx="144.1" cy="243.9" r="1.0"/><circle cx="154.3" cy="244.0" r="1.0"/><circle cx="145.3" cy="244.2" r="1.0"/><circle cx="127.6" cy="243.8" r="1.0"/><circle cx="148.6" cy="243.8" r="1.0"/><circle cx="150.4" cy="244.5" r="1.0"/><circle cx="150.5" cy="242.5" r="1.0"/><circle cx="143.7" cy="243.5" r="1.0"/><circle cx="145.5" cy="242.3" r="1.0"/><circle cx="138.9" cy="242.6" r="1.0"/><circle cx="131.2" cy="243.5" r="1.0"/><circle cx="160.4" cy="242.6" r="1.0"/><circle cx="140.3" cy="242.6" r="1.0"/><circle cx="151.9" cy="242.9" r="1.0"/><circle cx="141.0" cy="243.2" r="1.0"/><circle cx="143.0" cy="242.9" r="1.0"/><circle cx="142.1" cy="243.3" r="1.0"/><circle cx="132.5" cy="243.0" r="1.0"/><circle cx="143.2" cy="242.7" r="1.0"/><circle cx="147.0" cy="242.6" r="1.0"/><circle cx="156.4" cy="241.8" r="1.0"/><circle cx="148.8" cy="241.7" r="1.0"/><circle cx="142.3" cy="241.5" r="1.0"/><circle cx="126.5" cy="241.7" r="1.0"/><circle cx="144.9" cy="242.2" r="1.0"/><circle cx="132.0" cy="241.6" r="1.0"/><circle cx="126.9" cy="241.4" r="1.0"/><circle cx="154.4" cy="241.8" r="1.0"/><circle cx="150.8" cy="241.1" r="1.0"/><circle cx="150.2" cy="241.0" r="1.0"/><circle cx="144.5" cy="242.2" r="1.0"/><circle cx="144.2" cy="241.7" r="1.0"/><circle cx="148.1" cy="241.5" r="1.0"/><circle cx="145.7" cy="241.7" r="1.0"/><circle cx="141.5" cy="240.3" r="1.0"/><circle cx="146.5" cy="240.3" r="1.0"/><circle cx="141.8" cy="239.8" r="1.0"/><circle cx="131.9" cy="240.7" r="1.0"/><circle cx="142.1" cy="239.9" r="1.0"/><circle cx="157.5" cy="239.8" r="1.0"/><circle cx="155.5" cy="240.5" r="1.0"/><circle cx="143.6" cy="240.9" r="1.0"/><circle cx="138.8" cy="239.9" r="1.0"/><circle cx="145.1" cy="240.0" r="1.0"/><circle cx="145.1" cy="240.3" r="1.0"/><circle cx="140.0" cy="239.7" r="1.0"/><circle cx="142.0" cy="240.6" r="1.0"/><circle cx="150.2" cy="240.0" r="1.0"/><circle cx="138.2" cy="238.4" r="1.0"/><circle cx="153.6" cy="239.4" r="1.0"/><circle cx="147.7" cy="238.9" r="1.0"/><circle cx="144.6" cy="239.3" r="1.0"/><circle cx="154.3" cy="238.4" r="1.0"/><circle cx="147.7" cy="238.7" r="1.0"/><circle cx="152.1" cy="238.6" r="1.0"/><circle cx="152.2" cy="239.5" r="1.0"/><circle cx="148.3" cy="239.2" r="1.0"/><circle cx="152.6" cy="238.5" r="1.0"/><circle cx="152.0" cy="239.3" r="1.0"/><circle cx="134.6" cy="239.5" r="1.0"/><circle cx="144.1" cy="238.5" r="1.0"/><circle cx="144.7" cy="239.3" r="1.0"/><circle cx="137.9" cy="238.1" r="1.0"/><circle cx="145.3" cy="237.8" r="1.0"/><circle cx="161.4" cy="237.9" r="1.0"/><circle cx="146.3" cy="237.3" r="1.0"/><circle cx="149.4" cy="238.0" r="1.0"/><circle cx="145.4" cy="238.0" r="1.0"/><circle cx="154.7" cy="238.0" r="1.0"/><circle cx="154.3" cy="238.1" r="1.0"/><circle cx="165.5" cy="237.5" r="1.0"/><circle cx="150.9" cy="237.7" r="1.0"/><circle cx="150.6" cy="237.4" r="1.0"/><circle cx="136.9" cy="238.2" r="1.0"/><circle cx="143.9" cy="237.3" r="1.0"/><circle cx="141.4" cy="237.6" r="1.0"/><circle cx="144.7" cy="237.1" r="1.0"/><circle cx="141.8" cy="235.8" r="1.0"/><circle cx="137.9" cy="236.7" r="1.0"/><circle cx="155.1" cy="237.0" r="1.0"/><circle cx="141.6" cy="237.0" r="1.0"/><circle cx="153.1" cy="236.4" r="1.0"/><circle cx="152.0" cy="236.7" r="1.0"/><circle cx="140.0" cy="236.4" r="1.0"/><circle cx="156.3" cy="236.1" r="1.0"/><circle cx="140.9" cy="236.6" r="1.0"/><circle cx="152.5" cy="236.9" r="1.0"/><circle cx="159.8" cy="235.9" r="1.0"/><circle cx="141.9" cy="236.8" r="1.0"/><circle cx="140.4" cy="236.6" r="1.0"/><circle cx="140.0" cy="237.0" r="1.0"/><circle cx="166.1" cy="236.2" r="1.0"/><circle cx="145.0" cy="234.6" r="1.0"/><circle cx="138.8" cy="235.1" r="1.0"/><circle cx="151.1" cy="235.2" r="1.0"/><circle cx="152.4" cy="235.1" r="1.0"/><circle cx="156.3" cy="235.6" r="1.0"/><circle cx="148.3" cy="235.5" r="1.0"/><circle cx="148.0" cy="234.8" r="1.0"/><circle cx="151.3" cy="235.0" r="1.0"/><circle cx="141.2" cy="235.4" r="1.0"/><circle cx="142.4" cy="235.1" r="1.0"/><circle cx="154.3" cy="234.5" r="1.0"/><circle cx="138.6" cy="235.5" r="1.0"/><circle cx="148.4" cy="234.7" r="1.0"/><circle cx="155.4" cy="234.5" r="1.0"/><circle cx="150.7" cy="235.0" r="1.0"/><circle cx="147.2" cy="234.2" r="1.0"/><circle cx="144.7" cy="234.0" r="1.0"/><circle cx="141.8" cy="233.6" r="1.0"/><circle cx="147.9" cy="233.8" r="1.0"/><circle cx="159.9" cy="234.2" r="1.0"/><circle cx="156.4" cy="234.0" r="1.0"/><circle cx="149.2" cy="234.3" r="1.0"/><circle cx="151.5" cy="233.3" r="1.0"/><circle cx="135.2" cy="234.2" r="1.0"/><circle cx="156.1" cy="233.6" r="1.0"/><circle cx="148.0" cy="234.2" r="1.0"/><circle cx="160.5" cy="234.3" r="1.0"/><circle cx="148.2" cy="234.4" r="1.0"/><circle cx="146.2" cy="234.0" r="1.0"/><circle cx="152.1" cy="233.3" r="1.0"/><circle cx="156.1" cy="232.7" r="1.0"/><circle cx="158.9" cy="232.7" r="1.0"/><circle cx="149.3" cy="232.6" r="1.0"/><circle cx="148.3" cy="232.9" r="1.0"/><circle cx="136.5" cy="232.4" r="1.0"/><circle cx="158.1" cy="232.3" r="1.0"/><circle cx="167.9" cy="232.1" r="1.0"/><circle cx="149.4" cy="232.9" r="1.0"/><circle cx="163.2" cy="231.8" r="1.0"/><circle cx="157.9" cy="232.8" r="1.0"/><circle cx="146.2" cy="232.6" r="1.0"/><circle cx="157.9" cy="232.0" r="1.0"/><circle cx="144.3" cy="232.9" r="1.0"/><circle cx="149.2" cy="232.6" r="1.0"/><circle cx="160.9" cy="232.7" r="1.0"/><circle cx="152.4" cy="233.0" r="1.0"/><circle cx="163.8" cy="231.7" r="1.0"/><circle cx="155.4" cy="231.7" r="1.0"/><circle cx="153.4" cy="230.6" r="1.0"/><circle cx="163.7" cy="231.3" r="1.0"/><circle cx="152.8" cy="230.7" r="1.0"/><circle cx="154.0" cy="231.5" r="1.0"/><circle cx="145.4" cy="231.1" r="1.0"/><circle cx="153.2" cy="231.5" r="1.0"/><circle cx="168.4" cy="230.7" r="1.0"/><circle cx="152.5" cy="230.8" r="1.0"/><circle cx="156.3" cy="230.6" r="1.0"/><circle cx="134.1" cy="231.2" r="1.0"/><circle cx="163.4" cy="230.8" r="1.0"/><circle cx="155.1" cy="231.7" r="1.0"/><circle cx="163.7" cy="231.0" r="1.0"/><circle cx="154.8" cy="230.9" r="1.0"/><circle cx="152.1" cy="230.5" r="1.0"/><circle cx="151.7" cy="229.2" r="1.0"/><circle cx="154.9" cy="230.0" r="1.0"/><circle cx="154.9" cy="229.6" r="1.0"/><circle cx="144.8" cy="230.0" r="1.0"/><circle cx="152.8" cy="229.5" r="1.0"/><circle cx="152.3" cy="229.5" r="1.0"/><circle cx="143.3" cy="230.1" r="1.0"/><circle cx="148.7" cy="229.6" r="1.0"/><circle cx="153.7" cy="230.5" r="1.0"/><circle cx="139.9" cy="230.5" r="1.0"/><circle cx="144.3" cy="229.9" r="1.0"/><circle cx="149.6" cy="229.3" r="1.0"/><circle cx="152.5" cy="229.2" r="1.0"/><circle cx="155.9" cy="230.5" r="1.0"/><circle cx="141.8" cy="230.1" r="1.0"/><circle cx="155.7" cy="229.0" r="1.0"/><circle cx="157.1" cy="228.5" r="1.0"/><circle cx="147.2" cy="228.3" r="1.0"/><circle cx="157.1" cy="229.2" r="1.0"/><circle cx="169.7" cy="228.5" r="1.0"/><circle cx="143.0" cy="228.6" r="1.0"/><circle cx="160.2" cy="228.2" r="1.0"/><circle cx="161.2" cy="228.7" r="1.0"/><circle cx="154.8" cy="228.6" r="1.0"/><circle cx="156.3" cy="229.2" r="1.0"/><circle cx="152.7" cy="228.3" r="1.0"/><circle cx="165.4" cy="228.0" r="1.0"/><circle cx="147.6" cy="228.2" r="1.0"/><circle cx="153.7" cy="228.2" r="1.0"/><circle cx="139.8" cy="228.2" r="1.0"/><circle cx="156.4" cy="228.9" r="1.0"/><circle cx="174.6" cy="226.7" r="1.0"/><circle cx="176.2" cy="226.8" r="1.0"/><circle cx="157.5" cy="227.3" r="1.0"/><circle cx="168.9" cy="227.1" r="1.0"/><circle cx="149.2" cy="227.0" r="1.0"/><circle cx="153.4" cy="227.3" r="1.0"/><circle cx="163.3" cy="227.8" r="1.0"/><circle cx="145.8" cy="227.9" r="1.0"/><circle cx="145.6" cy="226.9" r="1.0"/><circle cx="158.2" cy="226.8" r="1.0"/><circle cx="139.6" cy="227.8" r="1.0"/><circle cx="168.7" cy="226.9" r="1.0"/><circle cx="160.3" cy="227.9" r="1.0"/><circle cx="157.6" cy="226.8" r="1.0"/><circle cx="160.4" cy="227.3" r="1.0"/><circle cx="148.5" cy="227.3" r="1.0"/><circle cx="152.5" cy="225.7" r="1.0"/><circle cx="155.3" cy="226.5" r="1.0"/><circle cx="155.0" cy="225.7" r="1.0"/><circle cx="154.2" cy="225.8" r="1.0"/><circle cx="161.2" cy="225.5" r="1.0"/><circle cx="141.9" cy="226.2" r="1.0"/><circle cx="152.6" cy="225.9" r="1.0"/><circle cx="158.7" cy="225.7" r="1.0"/><circle cx="161.7" cy="226.5" r="1.0"/><circle cx="158.6" cy="226.4" r="1.0"/><circle cx="157.2" cy="225.8" r="1.0"/><circle cx="156.3" cy="225.5" r="1.0"/><circle cx="151.8" cy="226.1" r="1.0"/><circle cx="158.2" cy="225.4" r="1.0"/><circle cx="156.0" cy="225.3" r="1.0"/><circle cx="151.5" cy="226.1" r="1.0"/><circle cx="165.9" cy="226.1" r="1.0"/><circle cx="160.3" cy="224.9" r="1.0"/><circle cx="159.8" cy="225.3" r="1.0"/><circle cx="151.1" cy="224.6" r="1.0"/><circle cx="154.0" cy="224.9" r="1.0"/><circle cx="149.1" cy="224.3" r="1.0"/><circle cx="176.2" cy="224.1" r="1.0"/><circle cx="157.8" cy="224.9" r="1.0"/><circle cx="158.2" cy="224.8" r="1.0"/><circle cx="154.5" cy="224.0" r="1.0"/><circle cx="159.0" cy="224.3" r="1.0"/><circle cx="164.7" cy="224.3" r="1.0"/><circle cx="155.7" cy="225.0" r="1.0"/><circle cx="158.8" cy="224.1" r="1.0"/><circle cx="174.8" cy="224.5" r="1.0"/><circle cx="165.3" cy="224.7" r="1.0"/><circle cx="159.9" cy="225.0" r="1.0"/><circle cx="155.6" cy="224.4" r="1.0"/><circle cx="158.7" cy="224.3" r="1.0"/><circle cx="158.1" cy="223.1" r="1.0"/><circle cx="163.5" cy="224.0" r="1.0"/><circle cx="152.7" cy="223.5" r="1.0"/><circle cx="147.9" cy="222.8" r="1.0"/><circle cx="154.2" cy="223.8" r="1.0"/><circle cx="155.4" cy="223.7" r="1.0"/><circle cx="156.5" cy="223.5" r="1.0"/><circle cx="158.7" cy="223.4" r="1.0"/><circle cx="176.1" cy="223.9" r="1.0"/><circle cx="158.7" cy="223.9" r="1.0"/><circle cx="155.4" cy="223.2" r="1.0"/><circle cx="150.3" cy="224.0" r="1.0"/><circle cx="164.5" cy="223.7" r="1.0"/><circle cx="146.9" cy="223.7" r="1.0"/><circle cx="169.3" cy="223.7" r="1.0"/><circle cx="159.4" cy="222.8" r="1.0"/><circle cx="147.4" cy="223.7" r="1.0"/><circle cx="161.2" cy="222.4" r="1.0"/><circle cx="160.0" cy="222.6" r="1.0"/><circle cx="149.5" cy="221.4" r="1.0"/><circle cx="154.4" cy="222.3" r="1.0"/><circle cx="166.1" cy="221.5" r="1.0"/><circle cx="148.5" cy="222.0" r="1.0"/><circle cx="162.4" cy="221.5" r="1.0"/><circle cx="159.2" cy="222.1" r="1.0"/><circle cx="164.4" cy="222.5" r="1.0"/><circle cx="164.7" cy="222.4" r="1.0"/><circle cx="166.0" cy="222.2" r="1.0"/><circle cx="160.0" cy="222.5" r="1.0"/><circle cx="162.1" cy="221.8" r="1.0"/><circle cx="154.3" cy="222.6" r="1.0"/><circle cx="156.0" cy="222.1" r="1.0"/><circle cx="166.7" cy="222.0" r="1.0"/><circle cx="156.3" cy="221.4" r="1.0"/><circle cx="167.5" cy="222.1" r="1.0"/><circle cx="166.3" cy="220.5" r="1.0"/><circle cx="157.4" cy="221.0" r="1.0"/><circle cx="154.5" cy="221.2" r="1.0"/><circle cx="158.5" cy="220.2" r="1.0"/><circle cx="158.7" cy="220.5" r="1.0"/><circle cx="166.2" cy="220.6" r="1.0"/><circle cx="162.4" cy="220.5" r="1.0"/><circle cx="157.7" cy="221.4" r="1.0"/><circle cx="158.1" cy="221.3" r="1.0"/><circle cx="155.3" cy="220.3" r="1.0"/><circle cx="162.3" cy="220.9" r="1.0"/><circle cx="147.0" cy="220.4" r="1.0"/><circle cx="160.4" cy="220.2" r="1.0"/><circle cx="170.8" cy="220.2" r="1.0"/><circle cx="159.5" cy="220.1" r="1.0"/><circle cx="157.3" cy="220.2" r="1.0"/><circle cx="161.6" cy="221.0" r="1.0"/><circle cx="155.1" cy="220.4" r="1.0"/><circle cx="170.8" cy="219.0" r="1.0"/><circle cx="165.6" cy="220.0" r="1.0"/><circle cx="160.7" cy="218.9" r="1.0"/><circle cx="162.5" cy="219.9" r="1.0"/><circle cx="163.4" cy="220.0" r="1.0"/><circle cx="151.3" cy="219.4" r="1.0"/><circle cx="164.3" cy="218.9" r="1.0"/><circle cx="162.1" cy="219.3" r="1.0"/><circle cx="146.8" cy="219.8" r="1.0"/><circle cx="150.6" cy="219.3" r="1.0"/><circle cx="176.0" cy="219.4" r="1.0"/><circle cx="163.1" cy="220.0" r="1.0"/><circle cx="172.7" cy="219.4" r="1.0"/><circle cx="160.6" cy="219.0" r="1.0"/><circle cx="174.4" cy="219.1" r="1.0"/><circle cx="166.8" cy="219.7" r="1.0"/><circle cx="157.7" cy="219.7" r="1.0"/><circle cx="164.8" cy="219.5" r="1.0"/><circle cx="166.7" cy="217.8" r="1.0"/><circle cx="168.4" cy="218.5" r="1.0"/><circle cx="158.9" cy="218.4" r="1.0"/><circle cx="165.6" cy="218.7" r="1.0"/><circle cx="161.3" cy="218.2" r="1.0"/><circle cx="174.7" cy="218.2" r="1.0"/><circle cx="161.2" cy="218.0" r="1.0"/><circle cx="164.8" cy="218.6" r="1.0"/><circle cx="153.2" cy="218.4" r="1.0"/><circle cx="154.3" cy="218.3" r="1.0"/><circle cx="163.9" cy="217.9" r="1.0"/><circle cx="157.5" cy="218.4" r="1.0"/><circle cx="162.5" cy="217.8" r="1.0"/><circle cx="166.1" cy="218.1" r="1.0"/><circle cx="168.7" cy="217.8" r="1.0"/><circle cx="154.5" cy="217.8" r="1.0"/><circle cx="162.7" cy="218.5" r="1.0"/><circle cx="169.5" cy="217.8" r="1.0"/><circle cx="159.4" cy="218.3" r="1.0"/><circle cx="176.3" cy="216.3" r="1.0"/><circle cx="174.0" cy="217.2" r="1.0"/><circle cx="174.6" cy="216.4" r="1.0"/><circle cx="161.6" cy="217.2" r="1.0"/><circle cx="181.4" cy="216.4" r="1.0"/><circle cx="167.1" cy="216.5" r="1.0"/><circle cx="175.1" cy="216.3" r="1.0"/><circle cx="171.2" cy="216.6" r="1.0"/><circle cx="152.6" cy="217.3" r="1.0"/><circle cx="151.2" cy="217.4" r="1.0"/><circle cx="154.4" cy="216.6" r="1.0"/><circle cx="165.6" cy="216.5" r="1.0"/><circle cx="174.0" cy="216.4" r="1.0"/><circle cx="164.0" cy="216.6" r="1.0"/><circle cx="172.2" cy="216.2" r="1.0"/><circle cx="156.5" cy="217.1" r="1.0"/><circle cx="161.0" cy="217.0" r="1.0"/><circle cx="158.6" cy="217.4" r="1.0"/><circle cx="166.5" cy="215.7" r="1.0"/><circle cx="165.0" cy="215.6" r="1.0"/><circle cx="173.9" cy="216.2" r="1.0"/><circle cx="173.2" cy="215.1" r="1.0"/><circle cx="179.7" cy="215.2" r="1.0"/><circle cx="174.6" cy="215.6" r="1.0"/><circle cx="160.8" cy="215.8" r="1.0"/><circle cx="155.8" cy="216.1" r="1.0"/><circle cx="157.5" cy="214.9" r="1.0"/><circle cx="160.0" cy="216.0" r="1.0"/><circle cx="170.6" cy="216.1" r="1.0"/><circle cx="156.7" cy="215.7" r="1.0"/><circle cx="152.9" cy="214.9" r="1.0"/><circle cx="164.9" cy="216.1" r="1.0"/><circle cx="171.9" cy="216.1" r="1.0"/><circle cx="172.0" cy="215.8" r="1.0"/><circle cx="178.4" cy="215.6" r="1.0"/><circle cx="166.7" cy="215.2" r="1.0"/><circle cx="172.7" cy="214.8" r="1.0"/><circle cx="173.5" cy="213.9" r="1.0"/><circle cx="148.6" cy="213.9" r="1.0"/><circle cx="163.4" cy="214.5" r="1.0"/><circle cx="169.7" cy="214.7" r="1.0"/><circle cx="179.7" cy="213.9" r="1.0"/><circle cx="161.1" cy="214.8" r="1.0"/><circle cx="167.7" cy="213.9" r="1.0"/><circle cx="178.0" cy="214.2" r="1.0"/><circle cx="171.5" cy="213.7" r="1.0"/><circle cx="166.0" cy="214.4" r="1.0"/><circle cx="165.0" cy="213.7" r="1.0"/><circle cx="168.1" cy="214.1" r="1.0"/><circle cx="161.9" cy="214.5" r="1.0"/><circle cx="175.1" cy="214.0" r="1.0"/><circle cx="161.5" cy="214.4" r="1.0"/><circle cx="171.6" cy="214.4" r="1.0"/><circle cx="174.0" cy="214.6" r="1.0"/><circle cx="181.2" cy="212.3" r="1.0"/><circle cx="171.6" cy="213.6" r="1.0"/><circle cx="165.1" cy="213.1" r="1.0"/><circle cx="168.9" cy="213.4" r="1.0"/><circle cx="164.2" cy="212.6" r="1.0"/><circle cx="160.4" cy="212.5" r="1.0"/><circle cx="162.8" cy="212.9" r="1.0"/><circle cx="173.9" cy="212.6" r="1.0"/><circle cx="172.1" cy="212.3" r="1.0"/><circle cx="170.4" cy="213.2" r="1.0"/><circle cx="161.7" cy="212.9" r="1.0"/><circle cx="160.0" cy="212.5" r="1.0"/><circle cx="175.9" cy="213.5" r="1.0"/><circle cx="167.2" cy="212.6" r="1.0"/><circle cx="177.3" cy="213.2" r="1.0"/><circle cx="163.8" cy="213.3" r="1.0"/><circle cx="175.7" cy="213.4" r="1.0"/><circle cx="171.0" cy="213.0" r="1.0"/><circle cx="172.5" cy="211.6" r="1.0"/><circle cx="163.9" cy="211.4" r="1.0"/><circle cx="165.4" cy="211.9" r="1.0"/><circle cx="169.6" cy="211.1" r="1.0"/><circle cx="176.5" cy="211.6" r="1.0"/><circle cx="170.3" cy="211.8" r="1.0"/><circle cx="166.2" cy="211.1" r="1.0"/><circle cx="172.5" cy="211.9" r="1.0"/><circle cx="161.9" cy="211.5" r="1.0"/><circle cx="184.4" cy="211.8" r="1.0"/><circle cx="172.9" cy="211.0" r="1.0"/><circle cx="163.7" cy="211.4" r="1.0"/><circle cx="170.9" cy="212.2" r="1.0"/><circle cx="177.9" cy="211.3" r="1.0"/><circle cx="173.6" cy="212.0" r="1.0"/><circle cx="184.3" cy="211.5" r="1.0"/><circle cx="160.7" cy="211.4" r="1.0"/><circle cx="181.4" cy="211.4" r="1.0"/><circle cx="170.5" cy="210.1" r="1.0"/><circle cx="174.8" cy="209.8" r="1.0"/><circle cx="169.9" cy="209.9" r="1.0"/><circle cx="176.6" cy="209.9" r="1.0"/><circle cx="173.0" cy="210.3" r="1.0"/><circle cx="178.3" cy="209.7" r="1.0"/><circle cx="172.4" cy="210.5" r="1.0"/><circle cx="171.5" cy="209.7" r="1.0"/><circle cx="164.7" cy="210.8" r="1.0"/><circle cx="161.6" cy="210.9" r="1.0"/><circle cx="169.2" cy="210.7" r="1.0"/><circle cx="169.0" cy="210.2" r="1.0"/><circle cx="173.9" cy="209.8" r="1.0"/><circle cx="170.6" cy="210.8" r="1.0"/><circle cx="168.9" cy="210.3" r="1.0"/><circle cx="186.4" cy="210.9" r="1.0"/><circle cx="173.6" cy="210.4" r="1.0"/><circle cx="167.8" cy="208.6" r="1.0"/><circle cx="167.3" cy="208.8" r="1.0"/><circle cx="167.4" cy="209.4" r="1.0"/><circle cx="174.0" cy="209.2" r="1.0"/><circle cx="166.8" cy="209.1" r="1.0"/><circle cx="171.8" cy="209.2" r="1.0"/><circle cx="180.4" cy="208.4" r="1.0"/><circle cx="156.1" cy="209.4" r="1.0"/><circle cx="166.4" cy="209.4" r="1.0"/><circle cx="166.0" cy="208.9" r="1.0"/><circle cx="172.2" cy="209.3" r="1.0"/><circle cx="162.3" cy="209.2" r="1.0"/><circle cx="168.1" cy="209.0" r="1.0"/><circle cx="188.3" cy="208.6" r="1.0"/><circle cx="163.7" cy="208.6" r="1.0"/><circle cx="171.9" cy="209.0" r="1.0"/><circle cx="174.3" cy="208.5" r="1.0"/><circle cx="170.3" cy="209.2" r="1.0"/><circle cx="167.9" cy="207.7" r="1.0"/><circle cx="159.4" cy="207.9" r="1.0"/><circle cx="176.8" cy="207.7" r="1.0"/><circle cx="177.3" cy="207.8" r="1.0"/><circle cx="164.9" cy="208.0" r="1.0"/><circle cx="175.9" cy="208.1" r="1.0"/><circle cx="172.0" cy="207.1" r="1.0"/><circle cx="160.1" cy="208.2" r="1.0"/><circle cx="166.7" cy="207.9" r="1.0"/><circle cx="177.2" cy="208.2" r="1.0"/><circle cx="179.7" cy="208.1" r="1.0"/><circle cx="175.9" cy="207.6" r="1.0"/><circle cx="191.6" cy="208.0" r="1.0"/><circle cx="175.2" cy="208.1" r="1.0"/><circle cx="168.6" cy="207.3" r="1.0"/><circle cx="163.4" cy="207.8" r="1.0"/><circle cx="183.4" cy="207.5" r="1.0"/><circle cx="171.7" cy="206.3" r="1.0"/><circle cx="174.9" cy="206.5" r="1.0"/><circle cx="168.5" cy="206.1" r="1.0"/><circle cx="168.0" cy="206.0" r="1.0"/><circle cx="173.2" cy="206.7" r="1.0"/><circle cx="175.7" cy="206.5" r="1.0"/><circle cx="170.5" cy="206.3" r="1.0"/><circle cx="181.1" cy="207.0" r="1.0"/><circle cx="189.7" cy="206.1" r="1.0"/><circle cx="178.3" cy="206.8" r="1.0"/><circle cx="173.4" cy="206.7" r="1.0"/><circle cx="172.8" cy="206.4" r="1.0"/><circle cx="185.7" cy="206.1" r="1.0"/><circle cx="176.7" cy="206.6" r="1.0"/><circle cx="179.0" cy="206.3" r="1.0"/><circle cx="176.1" cy="206.7" r="1.0"/><circle cx="170.7" cy="206.9" r="1.0"/><circle cx="188.4" cy="205.1" r="1.0"/><circle cx="177.6" cy="204.9" r="1.0"/><circle cx="178.0" cy="205.1" r="1.0"/><circle cx="179.8" cy="204.6" r="1.0"/><circle cx="172.6" cy="204.4" r="1.0"/><circle cx="174.3" cy="205.3" r="1.0"/><circle cx="178.7" cy="204.6" r="1.0"/><circle cx="183.3" cy="205.5" r="1.0"/><circle cx="180.5" cy="205.6" r="1.0"/><circle cx="174.7" cy="204.8" r="1.0"/><circle cx="183.8" cy="205.5" r="1.0"/><circle cx="173.3" cy="205.7" r="1.0"/><circle cx="166.1" cy="205.4" r="1.0"/><circle cx="187.0" cy="204.4" r="1.0"/><circle cx="176.1" cy="205.6" r="1.0"/><circle cx="173.3" cy="205.2" r="1.0"/><circle cx="178.2" cy="203.7" r="1.0"/><circle cx="171.7" cy="204.2" r="1.0"/><circle cx="184.7" cy="204.0" r="1.0"/><circle cx="184.5" cy="203.6" r="1.0"/><circle cx="170.3" cy="204.0" r="1.0"/><circle cx="178.1" cy="203.9" r="1.0"/><circle cx="175.6" cy="204.0" r="1.0"/><circle cx="168.7" cy="203.5" r="1.0"/><circle cx="188.0" cy="203.7" r="1.0"/><circle cx="184.8" cy="204.2" r="1.0"/><circle cx="180.1" cy="203.4" r="1.0"/><circle cx="186.6" cy="203.8" r="1.0"/><circle cx="174.3" cy="204.2" r="1.0"/><circle cx="179.6" cy="203.7" r="1.0"/><circle cx="186.7" cy="203.4" r="1.0"/><circle cx="176.1" cy="203.7" r="1.0"/><circle cx="178.3" cy="202.8" r="1.0"/><circle cx="176.5" cy="203.1" r="1.0"/><circle cx="183.3" cy="203.1" r="1.0"/><circle cx="170.9" cy="203.1" r="1.0"/><circle cx="190.9" cy="202.7" r="1.0"/><circle cx="181.6" cy="202.4" r="1.0"/><circle cx="176.6" cy="202.2" r="1.0"/><circle cx="178.9" cy="202.7" r="1.0"/><circle cx="178.6" cy="202.0" r="1.0"/><circle cx="176.5" cy="202.8" r="1.0"/><circle cx="171.5" cy="202.0" r="1.0"/><circle cx="177.2" cy="202.2" r="1.0"/><circle cx="167.8" cy="202.9" r="1.0"/><circle cx="186.5" cy="202.8" r="1.0"/><circle cx="171.4" cy="202.7" r="1.0"/><circle cx="172.8" cy="201.3" r="1.0"/><circle cx="172.9" cy="201.0" r="1.0"/><circle cx="168.5" cy="201.7" r="1.0"/><circle cx="173.7" cy="201.5" r="1.0"/><circle cx="183.5" cy="200.6" r="1.0"/><circle cx="187.2" cy="201.6" r="1.0"/><circle cx="189.1" cy="201.8" r="1.0"/><circle cx="174.3" cy="201.0" r="1.0"/><circle cx="176.0" cy="201.0" r="1.0"/><circle cx="180.5" cy="201.5" r="1.0"/><circle cx="180.4" cy="201.1" r="1.0"/><circle cx="181.3" cy="200.6" r="1.0"/><circle cx="169.6" cy="200.7" r="1.0"/><circle cx="178.1" cy="201.5" r="1.0"/><circle cx="179.2" cy="199.8" r="1.0"/><circle cx="178.8" cy="200.5" r="1.0"/><circle cx="177.0" cy="199.7" r="1.0"/><circle cx="181.5" cy="199.9" r="1.0"/><circle cx="178.8" cy="200.0" r="1.0"/><circle cx="179.4" cy="200.1" r="1.0"/><circle cx="182.7" cy="199.5" r="1.0"/><circle cx="178.0" cy="200.2" r="1.0"/><circle cx="175.8" cy="199.2" r="1.0"/><circle cx="178.4" cy="199.6" r="1.0"/><circle cx="176.9" cy="200.4" r="1.0"/><circle cx="183.2" cy="199.4" r="1.0"/><circle cx="187.7" cy="199.6" r="1.0"/><circle cx="178.7" cy="198.9" r="1.0"/><circle cx="186.3" cy="199.1" r="1.0"/><circle cx="184.2" cy="198.8" r="1.0"/><circle cx="183.9" cy="198.1" r="1.0"/><circle cx="180.1" cy="198.0" r="1.0"/><circle cx="180.6" cy="198.5" r="1.0"/><circle cx="182.0" cy="198.9" r="1.0"/><circle cx="182.7" cy="198.6" r="1.0"/><circle cx="189.3" cy="198.0" r="1.0"/><circle cx="175.1" cy="198.1" r="1.0"/><circle cx="183.1" cy="198.3" r="1.0"/><circle cx="183.2" cy="198.8" r="1.0"/><circle cx="174.0" cy="197.1" r="1.0"/><circle cx="181.9" cy="196.7" r="1.0"/><circle cx="191.2" cy="197.8" r="1.0"/><circle cx="186.6" cy="197.8" r="1.0"/><circle cx="184.9" cy="197.1" r="1.0"/><circle cx="187.3" cy="197.5" r="1.0"/><circle cx="179.2" cy="197.6" r="1.0"/><circle cx="185.2" cy="197.5" r="1.0"/><circle cx="167.6" cy="196.9" r="1.0"/><circle cx="180.1" cy="197.2" r="1.0"/><circle cx="180.6" cy="196.6" r="1.0"/><circle cx="180.4" cy="196.1" r="1.0"/><circle cx="184.6" cy="195.9" r="1.0"/><circle cx="176.8" cy="196.2" r="1.0"/><circle cx="184.3" cy="195.4" r="1.0"/><circle cx="185.7" cy="195.7" r="1.0"/><circle cx="181.7" cy="196.6" r="1.0"/><circle cx="182.3" cy="196.5" r="1.0"/><circle cx="188.5" cy="196.0" r="1.0"/><circle cx="189.9" cy="195.7" r="1.0"/><circle cx="190.8" cy="195.9" r="1.0"/><circle cx="182.3" cy="195.2" r="1.0"/><circle cx="183.6" cy="195.3" r="1.0"/><circle cx="180.1" cy="194.4" r="1.0"/><circle cx="181.0" cy="194.3" r="1.0"/><circle cx="182.5" cy="195.2" r="1.0"/><circle cx="185.5" cy="194.1" r="1.0"/><circle cx="179.7" cy="194.2" r="1.0"/><circle cx="184.2" cy="194.9" r="1.0"/><circle cx="181.5" cy="194.4" r="1.0"/><circle cx="180.5" cy="193.9" r="1.0"/><circle cx="187.8" cy="192.9" r="1.0"/><circle cx="180.4" cy="193.3" r="1.0"/><circle cx="185.2" cy="193.9" r="1.0"/><circle cx="189.5" cy="193.9" r="1.0"/><circle cx="188.4" cy="192.9" r="1.0"/><circle cx="184.5" cy="193.0" r="1.0"/><circle cx="185.6" cy="193.4" r="1.0"/><circle cx="189.9" cy="192.4" r="1.0"/><circle cx="190.6" cy="192.5" r="1.0"/><circle cx="174.0" cy="192.1" r="1.0"/><circle cx="184.6" cy="192.1" r="1.0"/><circle cx="184.5" cy="192.2" r="1.0"/><circle cx="188.3" cy="191.8" r="1.0"/><circle cx="189.2" cy="191.2" r="1.0"/><circle cx="193.4" cy="190.7" r="1.0"/><circle cx="188.0" cy="191.4" r="1.0"/><circle cx="189.0" cy="191.0" r="1.0"/><circle cx="182.9" cy="189.6" r="1.0"/><circle cx="186.4" cy="189.6" r="1.0"/><circle cx="187.0" cy="190.0" r="1.0"/><circle cx="187.6" cy="187.6" r="1.0"/><circle cx="187.0" cy="188.1" r="1.0"/><circle cx="185.7" cy="186.5" r="1.0"/><circle cx="146.4" cy="254.1" r="1.0"/><circle cx="112.0" cy="253.4" r="1.0"/><circle cx="152.1" cy="244.9" r="1.0"/><circle cx="126.7" cy="241.5" r="1.0"/><circle cx="134.2" cy="239.0" r="1.0"/><circle cx="155.5" cy="238.1" r="1.0"/><circle cx="140.0" cy="235.3" r="1.0"/><circle cx="147.5" cy="233.6" r="1.0"/><circle cx="156.7" cy="232.8" r="1.0"/><circle cx="161.4" cy="229.9" r="1.0"/><circle cx="168.6" cy="227.9" r="1.0"/><circle cx="167.3" cy="227.0" r="1.0"/><circle cx="166.4" cy="225.6" r="1.0"/><circle cx="148.5" cy="222.8" r="1.0"/><circle cx="173.2" cy="220.5" r="1.0"/><circle cx="160.4" cy="218.4" r="1.0"/><circle cx="176.0" cy="216.5" r="1.0"/><circle cx="188.4" cy="216.0" r="1.0"/><circle cx="144.2" cy="214.1" r="1.0"/><circle cx="168.2" cy="208.5" r="1.0"/><circle cx="175.9" cy="208.0" r="1.0"/><circle cx="181.0" cy="206.6" r="1.0"/><circle cx="181.0" cy="205.6" r="1.0"/><circle cx="167.9" cy="202.4" r="1.0"/><circle cx="192.8" cy="192.9" r="1.0"/></g>
<line x1="60.40" y1="295.20" x2="236.40" y2="164.80" stroke="#fa8072" stroke-opacity="0.8" stroke-width="1.3"/>
<rect x="60.40" y="164.80" width="176.00" height="130.40" fill="none" stroke="#6a6a6a" stroke-width="0.9"/>
<line x1="60.40" y1="295.20" x2="60.40" y2="297.20" stroke="#6a6a6a" stroke-width="0.9"/>
<line x1="60.40" y1="295.20" x2="58.40" y2="295.20" stroke="#6a6a6a" stroke-width="0.9"/>
<text x="60.40" y="302.00" class="t" text-anchor="middle">0</text>
<text x="57.00" y="296.90" class="t" text-anchor="end">0</text>
<line x1="95.60" y1="295.20" x2="95.60" y2="297.20" stroke="#6a6a6a" stroke-width="0.9"/>
<line x1="60.40" y1="269.12" x2="58.40" y2="269.12" stroke="#6a6a6a" stroke-width="0.9"/>
<text x="95.60" y="302.00" class="t" text-anchor="middle">20</text>
<text x="57.00" y="270.82" class="t" text-anchor="end">20</text>
<line x1="130.80" y1="295.20" x2="130.80" y2="297.20" stroke="#6a6a6a" stroke-width="0.9"/>
<line x1="60.40" y1="243.04" x2="58.40" y2="243.04" stroke="#6a6a6a" stroke-width="0.9"/>
<text x="130.80" y="302.00" class="t" text-anchor="middle">40</text>
<text x="57.00" y="244.74" class="t" text-anchor="end">40</text>
<line x1="166.00" y1="295.20" x2="166.00" y2="297.20" stroke="#6a6a6a" stroke-width="0.9"/>
<line x1="60.40" y1="216.96" x2="58.40" y2="216.96" stroke="#6a6a6a" stroke-width="0.9"/>
<text x="166.00" y="302.00" class="t" text-anchor="middle">60</text>
<text x="57.00" y="218.66" class="t" text-anchor="end">60</text>
<line x1="201.20" y1="295.20" x2="201.20" y2="297.20" stroke="#6a6a6a" stroke-width="0.9"/>
<line x1="60.40" y1="190.88" x2="58.40" y2="190.88" stroke="#6a6a6a" stroke-width="0.9"/>
<text x="201.20" y="302.00" class="t" text-anchor="middle">80</text>
<text x="57.00" y="192.58" class="t" text-anchor="end">80</text>
<line x1="236.40" y1="295.20" x2="236.40" y2="297.20" stroke="#6a6a6a" stroke-width="0.9"/>
<line x1="60.40" y1="164.80" x2="58.40" y2="164.80" stroke="#6a6a6a" stroke-width="0.9"/>
<text x="236.40" y="302.00" class="t" text-anchor="middle">100</text>
<text x="57.00" y="166.50" class="t" text-anchor="end">100</text>
<text x="149.20" y="310.40" class="l" text-anchor="middle">Regression Predict</text>
<text transform="translate(44.40,230.00) rotate(-90)" class="l" text-anchor="middle">True</text>
<g fill="#0000ff" fill-opacity="0.42" stroke="#0000ff" stroke-opacity="0.42" stroke-width="0.3"><circle cx="336.2" cy="249.8" r="1.0"/><circle cx="336.7" cy="251.2" r="1.0"/><circle cx="341.5" cy="248.3" r="1.0"/><circle cx="342.0" cy="250.3" r="1.0"/><circle cx="344.8" cy="250.7" r="1.0"/><circle cx="345.8" cy="252.2" r="1.0"/><circle cx="344.3" cy="254.5" r="1.0"/><circle cx="339.1" cy="255.5" r="1.0"/><circle cx="340.5" cy="256.5" r="1.0"/><circle cx="339.6" cy="254.5" r="1.0"/><circle cx="332.9" cy="256.0" r="1.0"/><circle cx="333.4" cy="258.8" r="1.0"/><circle cx="334.8" cy="259.3" r="1.0"/><circle cx="329.5" cy="259.8" r="1.0"/><circle cx="335.8" cy="261.2" r="1.0"/><circle cx="339.6" cy="262.7" r="1.0"/><circle cx="344.8" cy="263.6" r="1.0"/><circle cx="348.6" cy="265.0" r="1.0"/><circle cx="348.2" cy="258.8" r="1.0"/><circle cx="349.6" cy="261.2" r="1.0"/><circle cx="352.0" cy="262.7" r="1.0"/><circle cx="350.5" cy="257.4" r="1.0"/><circle cx="350.1" cy="254.1" r="1.0"/><circle cx="350.5" cy="253.1" r="1.0"/><circle cx="349.6" cy="247.9" r="1.0"/><circle cx="351.5" cy="246.0" r="1.0"/><circle cx="352.9" cy="245.5" r="1.0"/><circle cx="354.8" cy="247.9" r="1.0"/><circle cx="356.3" cy="250.7" r="1.0"/><circle cx="354.8" cy="254.5" r="1.0"/><circle cx="356.8" cy="254.5" r="1.0"/><circle cx="359.1" cy="254.5" r="1.0"/><circle cx="359.1" cy="258.8" r="1.0"/><circle cx="325.7" cy="268.9" r="1.0"/><circle cx="334.8" cy="268.4" r="1.0"/><circle cx="335.8" cy="267.9" r="1.0"/><circle cx="338.6" cy="270.3" r="1.0"/><circle cx="327.6" cy="272.7" r="1.0"/><circle cx="341.7" cy="232.6" r="1.0"/><circle cx="343.2" cy="235.5" r="1.0"/><circle cx="343.6" cy="237.4" r="1.0"/><circle cx="345.5" cy="235.0" r="1.0"/><circle cx="347.0" cy="235.5" r="1.0"/><circle cx="348.4" cy="237.9" r="1.0"/><circle cx="350.8" cy="236.9" r="1.0"/><circle cx="352.2" cy="237.4" r="1.0"/><circle cx="353.7" cy="238.8" r="1.0"/><circle cx="350.3" cy="239.3" r="1.0"/><circle cx="351.8" cy="239.8" r="1.0"/><circle cx="348.9" cy="240.8" r="1.0"/><circle cx="339.8" cy="241.7" r="1.0"/><circle cx="340.8" cy="242.7" r="1.0"/><circle cx="346.0" cy="241.7" r="1.0"/><circle cx="343.6" cy="244.6" r="1.0"/><circle cx="352.2" cy="245.5" r="1.0"/><circle cx="354.1" cy="246.0" r="1.0"/><circle cx="349.4" cy="247.9" r="1.0"/><circle cx="341.7" cy="247.9" r="1.0"/><circle cx="342.7" cy="249.3" r="1.0"/><circle cx="336.5" cy="249.8" r="1.0"/><circle cx="336.0" cy="251.3" r="1.0"/><circle cx="343.6" cy="251.3" r="1.0"/><circle cx="345.5" cy="252.2" r="1.0"/><circle cx="340.8" cy="253.6" r="1.0"/><circle cx="350.3" cy="253.6" r="1.0"/><circle cx="362.4" cy="227.1" r="1.0"/><circle cx="365.0" cy="228.3" r="1.0"/><circle cx="367.7" cy="227.4" r="1.0"/><circle cx="370.8" cy="226.4" r="1.0"/><circle cx="372.9" cy="227.7" r="1.0"/><circle cx="376.3" cy="227.1" r="1.0"/><circle cx="378.8" cy="227.3" r="1.0"/><circle cx="381.7" cy="226.6" r="1.0"/><circle cx="383.2" cy="226.5" r="1.0"/><circle cx="386.8" cy="228.4" r="1.0"/><circle cx="355.8" cy="231.9" r="1.0"/><circle cx="358.5" cy="231.8" r="1.0"/><circle cx="360.2" cy="230.7" r="1.0"/><circle cx="366.3" cy="231.7" r="1.0"/><circle cx="369.0" cy="230.2" r="1.0"/><circle cx="371.8" cy="230.5" r="1.0"/><circle cx="375.6" cy="231.9" r="1.0"/><circle cx="378.4" cy="232.1" r="1.0"/><circle cx="381.3" cy="230.1" r="1.0"/><circle cx="383.8" cy="231.2" r="1.0"/><circle cx="386.8" cy="231.0" r="1.0"/><circle cx="352.2" cy="234.1" r="1.0"/><circle cx="354.9" cy="234.1" r="1.0"/><circle cx="357.7" cy="235.9" r="1.0"/><circle cx="360.3" cy="233.8" r="1.0"/><circle cx="364.0" cy="235.1" r="1.0"/><circle cx="366.8" cy="234.0" r="1.0"/><circle cx="370.0" cy="236.0" r="1.0"/><circle cx="372.3" cy="234.8" r="1.0"/><circle cx="376.4" cy="234.0" r="1.0"/><circle cx="378.7" cy="234.2" r="1.0"/><circle cx="381.6" cy="236.1" r="1.0"/><circle cx="387.3" cy="235.1" r="1.0"/><circle cx="351.1" cy="238.0" r="1.0"/><circle cx="353.6" cy="240.0" r="1.0"/><circle cx="356.1" cy="237.9" r="1.0"/><circle cx="359.7" cy="239.9" r="1.0"/><circle cx="364.1" cy="239.1" r="1.0"/><circle cx="367.7" cy="238.5" r="1.0"/><circle cx="371.1" cy="239.0" r="1.0"/><circle cx="373.1" cy="237.8" r="1.0"/><circle cx="376.6" cy="239.7" r="1.0"/><circle cx="384.0" cy="238.7" r="1.0"/><circle cx="351.8" cy="243.8" r="1.0"/><circle cx="355.8" cy="241.4" r="1.0"/><circle cx="359.7" cy="242.2" r="1.0"/><circle cx="362.3" cy="241.9" r="1.0"/><circle cx="366.7" cy="242.2" r="1.0"/><circle cx="368.8" cy="242.9" r="1.0"/><circle cx="380.7" cy="243.3" r="1.0"/><circle cx="351.5" cy="247.1" r="1.0"/><circle cx="355.0" cy="246.4" r="1.0"/><circle cx="358.8" cy="245.8" r="1.0"/><circle cx="360.7" cy="246.2" r="1.0"/><circle cx="365.1" cy="247.5" r="1.0"/><circle cx="366.1" cy="246.1" r="1.0"/><circle cx="357.0" cy="250.4" r="1.0"/><circle cx="364.9" cy="249.9" r="1.0"/><circle cx="374.2" cy="250.1" r="1.0"/><circle cx="350.6" cy="254.7" r="1.0"/><circle cx="356.4" cy="254.7" r="1.0"/><circle cx="375.2" cy="206.3" r="1.0"/><circle cx="376.8" cy="205.3" r="1.0"/><circle cx="385.1" cy="205.9" r="1.0"/><circle cx="390.6" cy="206.9" r="1.0"/><circle cx="392.8" cy="205.5" r="1.0"/><circle cx="395.3" cy="205.4" r="1.0"/><circle cx="396.4" cy="206.2" r="1.0"/><circle cx="398.8" cy="205.3" r="1.0"/><circle cx="400.5" cy="206.5" r="1.0"/><circle cx="403.1" cy="205.9" r="1.0"/><circle cx="406.6" cy="205.5" r="1.0"/><circle cx="373.1" cy="209.9" r="1.0"/><circle cx="376.0" cy="209.4" r="1.0"/><circle cx="379.2" cy="208.6" r="1.0"/><circle cx="383.4" cy="208.8" r="1.0"/><circle cx="385.9" cy="208.7" r="1.0"/><circle cx="388.3" cy="208.9" r="1.0"/><circle cx="390.1" cy="208.8" r="1.0"/><circle cx="392.9" cy="209.5" r="1.0"/><circle cx="396.2" cy="208.8" r="1.0"/><circle cx="398.6" cy="210.2" r="1.0"/><circle cx="401.0" cy="210.2" r="1.0"/><circle cx="403.5" cy="210.3" r="1.0"/><circle cx="372.2" cy="212.7" r="1.0"/><circle cx="374.8" cy="212.7" r="1.0"/><circle cx="378.4" cy="211.8" r="1.0"/><circle cx="380.6" cy="212.7" r="1.0"/><circle cx="384.1" cy="213.0" r="1.0"/><circle cx="386.9" cy="211.9" r="1.0"/><circle cx="389.3" cy="212.5" r="1.0"/><circle cx="392.0" cy="212.8" r="1.0"/><circle cx="394.4" cy="212.8" r="1.0"/><circle cx="397.1" cy="213.3" r="1.0"/><circle cx="399.4" cy="213.2" r="1.0"/><circle cx="371.2" cy="216.1" r="1.0"/><circle cx="374.1" cy="215.1" r="1.0"/><circle cx="376.8" cy="216.1" r="1.0"/><circle cx="379.6" cy="215.7" r="1.0"/><circle cx="383.1" cy="215.3" r="1.0"/><circle cx="387.3" cy="215.3" r="1.0"/><circle cx="389.7" cy="215.6" r="1.0"/><circle cx="394.8" cy="216.0" r="1.0"/><circle cx="397.3" cy="216.4" r="1.0"/><circle cx="400.4" cy="216.4" r="1.0"/><circle cx="402.5" cy="216.7" r="1.0"/><circle cx="371.5" cy="220.4" r="1.0"/><circle cx="375.2" cy="220.1" r="1.0"/><circle cx="377.3" cy="219.2" r="1.0"/><circle cx="381.3" cy="220.0" r="1.0"/><circle cx="385.1" cy="219.0" r="1.0"/><circle cx="388.3" cy="218.8" r="1.0"/><circle cx="391.4" cy="220.4" r="1.0"/><circle cx="395.7" cy="219.9" r="1.0"/><circle cx="399.6" cy="219.5" r="1.0"/><circle cx="370.9" cy="223.5" r="1.0"/><circle cx="373.6" cy="222.9" r="1.0"/><circle cx="377.6" cy="222.8" r="1.0"/><circle cx="380.5" cy="224.1" r="1.0"/><circle cx="383.0" cy="222.6" r="1.0"/><circle cx="386.9" cy="222.5" r="1.0"/><circle cx="389.4" cy="223.9" r="1.0"/><circle cx="373.0" cy="226.1" r="1.0"/><circle cx="376.3" cy="226.2" r="1.0"/><circle cx="381.3" cy="227.1" r="1.0"/><circle cx="384.7" cy="227.1" r="1.0"/><circle cx="395.1" cy="227.4" r="1.0"/><circle cx="390.7" cy="205.1" r="1.0"/><circle cx="394.5" cy="205.5" r="1.0"/><circle cx="396.9" cy="206.0" r="1.0"/><circle cx="399.3" cy="206.5" r="1.0"/><circle cx="402.7" cy="207.5" r="1.0"/><circle cx="406.5" cy="205.1" r="1.0"/><circle cx="403.6" cy="210.3" r="1.0"/><circle cx="400.3" cy="212.7" r="1.0"/><circle cx="403.1" cy="215.6" r="1.0"/><circle cx="400.3" cy="216.0" r="1.0"/><circle cx="397.4" cy="213.2" r="1.0"/><circle cx="396.5" cy="216.0" r="1.0"/><circle cx="394.5" cy="215.6" r="1.0"/><circle cx="399.8" cy="219.4" r="1.0"/><circle cx="396.5" cy="218.9" r="1.0"/><circle cx="390.7" cy="221.8" r="1.0"/><circle cx="394.5" cy="225.1" r="1.0"/><circle cx="386.9" cy="220.8" r="1.0"/><circle cx="388.8" cy="223.2" r="1.0"/><circle cx="332.7" cy="259.4" r="1.0"/><circle cx="334.6" cy="259.0" r="1.0"/><circle cx="336.0" cy="261.3" r="1.0"/><circle cx="339.4" cy="262.8" r="1.0"/><circle cx="344.1" cy="263.7" r="1.0"/><circle cx="326.0" cy="269.0" r="1.0"/><circle cx="327.9" cy="272.8" r="1.0"/><circle cx="335.1" cy="269.0" r="1.0"/><circle cx="336.0" cy="268.0" r="1.0"/><circle cx="338.4" cy="270.4" r="1.0"/><circle cx="368.9" cy="205.2" r="1.0"/><circle cx="374.1" cy="206.6" r="1.0"/><circle cx="361.2" cy="212.8" r="1.0"/><circle cx="367.9" cy="212.8" r="1.0"/><circle cx="370.3" cy="212.8" r="1.0"/><circle cx="372.7" cy="212.3" r="1.0"/><circle cx="369.8" cy="215.7" r="1.0"/><circle cx="370.8" cy="218.1" r="1.0"/><circle cx="373.2" cy="218.5" r="1.0"/><circle cx="362.2" cy="220.9" r="1.0"/><circle cx="360.8" cy="223.3" r="1.0"/><circle cx="364.1" cy="222.8" r="1.0"/><circle cx="366.5" cy="221.9" r="1.0"/><circle cx="369.4" cy="223.3" r="1.0"/><circle cx="362.7" cy="225.7" r="1.0"/><circle cx="365.5" cy="225.2" r="1.0"/><circle cx="367.9" cy="224.7" r="1.0"/><circle cx="372.7" cy="221.9" r="1.0"/><circle cx="373.7" cy="224.3" r="1.0"/><circle cx="340.5" cy="232.3" r="1.0"/><circle cx="348.0" cy="235.2" r="1.0"/><circle cx="349.9" cy="237.9" r="1.0"/><circle cx="348.6" cy="237.3" r="1.0"/><circle cx="367.8" cy="225.7" r="1.0"/><circle cx="373.9" cy="226.6" r="1.0"/><circle cx="369.6" cy="230.9" r="1.0"/><circle cx="380.9" cy="231.6" r="1.0"/><circle cx="356.9" cy="236.4" r="1.0"/><circle cx="366.5" cy="236.0" r="1.0"/><circle cx="368.1" cy="237.2" r="1.0"/><circle cx="370.5" cy="241.1" r="1.0"/><circle cx="376.3" cy="239.4" r="1.0"/><circle cx="377.7" cy="204.0" r="1.0"/><circle cx="377.8" cy="205.3" r="1.0"/><circle cx="384.9" cy="205.7" r="1.0"/><circle cx="389.2" cy="207.8" r="1.0"/><circle cx="395.1" cy="206.1" r="1.0"/><circle cx="397.8" cy="204.7" r="1.0"/><circle cx="395.0" cy="206.6" r="1.0"/><circle cx="397.5" cy="204.4" r="1.0"/><circle cx="401.8" cy="206.0" r="1.0"/><circle cx="402.9" cy="205.0" r="1.0"/><circle cx="408.0" cy="205.3" r="1.0"/><circle cx="374.3" cy="210.0" r="1.0"/><circle cx="377.6" cy="209.6" r="1.0"/><circle cx="380.8" cy="209.2" r="1.0"/><circle cx="382.9" cy="207.8" r="1.0"/><circle cx="385.9" cy="208.4" r="1.0"/><circle cx="386.9" cy="206.1" r="1.0"/><circle cx="388.6" cy="209.2" r="1.0"/><circle cx="392.2" cy="210.3" r="1.0"/><circle cx="395.4" cy="208.2" r="1.0"/><circle cx="398.6" cy="209.9" r="1.0"/><circle cx="400.9" cy="209.2" r="1.0"/><circle cx="403.8" cy="209.5" r="1.0"/><circle cx="370.5" cy="213.4" r="1.0"/><circle cx="374.3" cy="213.7" r="1.0"/><circle cx="376.2" cy="212.7" r="1.0"/><circle cx="379.7" cy="214.2" r="1.0"/><circle cx="387.0" cy="212.5" r="1.0"/><circle cx="390.1" cy="214.5" r="1.0"/><circle cx="392.4" cy="213.7" r="1.0"/><circle cx="393.0" cy="211.1" r="1.0"/><circle cx="397.8" cy="214.1" r="1.0"/><circle cx="370.4" cy="217.2" r="1.0"/><circle cx="371.6" cy="216.7" r="1.0"/><circle cx="379.9" cy="216.2" r="1.0"/><circle cx="390.1" cy="214.4" r="1.0"/><circle cx="389.6" cy="213.1" r="1.0"/><circle cx="399.9" cy="217.2" r="1.0"/><circle cx="401.6" cy="216.1" r="1.0"/><circle cx="376.8" cy="219.0" r="1.0"/><circle cx="391.4" cy="219.6" r="1.0"/><circle cx="394.9" cy="218.5" r="1.0"/><circle cx="401.3" cy="218.8" r="1.0"/><circle cx="387.1" cy="223.4" r="1.0"/><circle cx="373.8" cy="223.3" r="1.0"/><circle cx="382.9" cy="225.2" r="1.0"/><circle cx="395.0" cy="228.4" r="1.0"/><circle cx="389.5" cy="205.7" r="1.0"/><circle cx="394.9" cy="205.5" r="1.0"/><circle cx="397.2" cy="206.3" r="1.0"/><circle cx="399.6" cy="206.1" r="1.0"/><circle cx="402.3" cy="208.5" r="1.0"/><circle cx="405.5" cy="203.8" r="1.0"/><circle cx="404.0" cy="211.3" r="1.0"/><circle cx="398.5" cy="212.0" r="1.0"/><circle cx="403.8" cy="216.0" r="1.0"/><circle cx="398.5" cy="214.6" r="1.0"/><circle cx="398.0" cy="211.5" r="1.0"/><circle cx="395.4" cy="217.1" r="1.0"/><circle cx="399.3" cy="218.0" r="1.0"/><circle cx="394.5" cy="218.5" r="1.0"/><circle cx="389.5" cy="222.4" r="1.0"/><circle cx="369.1" cy="204.3" r="1.0"/><circle cx="375.7" cy="208.1" r="1.0"/><circle cx="362.8" cy="211.4" r="1.0"/><circle cx="367.7" cy="211.3" r="1.0"/><circle cx="370.2" cy="212.7" r="1.0"/><circle cx="372.8" cy="211.9" r="1.0"/><circle cx="372.0" cy="217.3" r="1.0"/><circle cx="373.3" cy="218.5" r="1.0"/><circle cx="374.3" cy="216.9" r="1.0"/><circle cx="369.6" cy="221.8" r="1.0"/><circle cx="365.5" cy="222.2" r="1.0"/><circle cx="367.1" cy="226.2" r="1.0"/><circle cx="374.1" cy="225.2" r="1.0"/></g>
<line x1="281.50" y1="295.20" x2="457.30" y2="164.80" stroke="#fa8072" stroke-opacity="0.8" stroke-width="1.3"/>
<rect x="281.50" y="164.80" width="175.80" height="130.40" fill="none" stroke="#6a6a6a" stroke-width="0.9"/>
<line x1="281.50" y1="295.20" x2="281.50" y2="297.20" stroke="#6a6a6a" stroke-width="0.9"/>
<line x1="281.50" y1="295.20" x2="279.50" y2="295.20" stroke="#6a6a6a" stroke-width="0.9"/>
<text x="281.50" y="302.00" class="t" text-anchor="middle">0</text>
<text x="278.10" y="296.90" class="t" text-anchor="end">0</text>
<line x1="316.66" y1="295.20" x2="316.66" y2="297.20" stroke="#6a6a6a" stroke-width="0.9"/>
<line x1="281.50" y1="269.12" x2="279.50" y2="269.12" stroke="#6a6a6a" stroke-width="0.9"/>
<text x="316.66" y="302.00" class="t" text-anchor="middle">20</text>
<text x="278.10" y="270.82" class="t" text-anchor="end">20</text>
<line x1="351.82" y1="295.20" x2="351.82" y2="297.20" stroke="#6a6a6a" stroke-width="0.9"/>
<line x1="281.50" y1="243.04" x2="279.50" y2="243.04" stroke="#6a6a6a" stroke-width="0.9"/>
<text x="351.82" y="302.00" class="t" text-anchor="middle">40</text>
<text x="278.10" y="244.74" class="t" text-anchor="end">40</text>
<line x1="386.98" y1="295.20" x2="386.98" y2="297.20" stroke="#6a6a6a" stroke-width="0.9"/>
<line x1="281.50" y1="216.96" x2="279.50" y2="216.96" stroke="#6a6a6a" stroke-width="0.9"/>
<text x="386.98" y="302.00" class="t" text-anchor="middle">60</text>
<text x="278.10" y="218.66" class="t" text-anchor="end">60</text>
<line x1="422.14" y1="295.20" x2="422.14" y2="297.20" stroke="#6a6a6a" stroke-width="0.9"/>
<line x1="281.50" y1="190.88" x2="279.50" y2="190.88" stroke="#6a6a6a" stroke-width="0.9"/>
<text x="422.14" y="302.00" class="t" text-anchor="middle">80</text>
<text x="278.10" y="192.58" class="t" text-anchor="end">80</text>
<line x1="457.30" y1="295.20" x2="457.30" y2="297.20" stroke="#6a6a6a" stroke-width="0.9"/>
<line x1="281.50" y1="164.80" x2="279.50" y2="164.80" stroke="#6a6a6a" stroke-width="0.9"/>
<text x="457.30" y="302.00" class="t" text-anchor="middle">100</text>
<text x="278.10" y="166.50" class="t" text-anchor="end">100</text>
<text x="369.70" y="310.40" class="l" text-anchor="middle">Regression Predict</text>
<text transform="translate(264.70,230.00) rotate(-90)" class="l" text-anchor="middle">True</text>
<g fill="#0000ff" fill-opacity="0.42" stroke="#0000ff" stroke-opacity="0.42" stroke-width="0.3"><circle cx="550.5" cy="245.5" r="1.0"/><circle cx="558.2" cy="246.0" r="1.0"/><circle cx="548.1" cy="254.1" r="1.0"/><circle cx="554.3" cy="253.1" r="1.0"/><circle cx="555.8" cy="252.6" r="1.0"/><circle cx="557.7" cy="251.7" r="1.0"/><circle cx="558.6" cy="250.3" r="1.0"/><circle cx="561.5" cy="249.3" r="1.0"/><circle cx="562.9" cy="248.8" r="1.0"/><circle cx="562.5" cy="252.2" r="1.0"/><circle cx="564.4" cy="252.2" r="1.0"/><circle cx="563.9" cy="254.1" r="1.0"/><circle cx="562.5" cy="254.5" r="1.0"/><circle cx="565.3" cy="253.1" r="1.0"/><circle cx="568.2" cy="248.3" r="1.0"/><circle cx="551.5" cy="256.9" r="1.0"/><circle cx="550.5" cy="258.4" r="1.0"/><circle cx="560.5" cy="258.8" r="1.0"/><circle cx="563.4" cy="262.7" r="1.0"/><circle cx="549.6" cy="261.7" r="1.0"/><circle cx="554.8" cy="261.7" r="1.0"/><circle cx="559.1" cy="261.7" r="1.0"/><circle cx="552.4" cy="264.1" r="1.0"/><circle cx="549.1" cy="265.5" r="1.0"/><circle cx="558.6" cy="265.5" r="1.0"/><circle cx="552.9" cy="267.0" r="1.0"/><circle cx="548.6" cy="267.9" r="1.0"/><circle cx="558.2" cy="267.9" r="1.0"/><circle cx="553.4" cy="269.8" r="1.0"/><circle cx="541.5" cy="267.0" r="1.0"/><circle cx="543.4" cy="266.5" r="1.0"/><circle cx="544.3" cy="265.0" r="1.0"/><circle cx="545.3" cy="264.6" r="1.0"/><circle cx="542.4" cy="267.9" r="1.0"/><circle cx="543.8" cy="267.9" r="1.0"/><circle cx="541.9" cy="270.8" r="1.0"/><circle cx="543.4" cy="274.1" r="1.0"/><circle cx="544.3" cy="274.1" r="1.0"/><circle cx="542.0" cy="266.9" r="1.0"/><circle cx="542.5" cy="267.9" r="1.0"/><circle cx="541.5" cy="270.3" r="1.0"/><circle cx="542.9" cy="270.8" r="1.0"/><circle cx="543.4" cy="274.6" r="1.0"/><circle cx="548.7" cy="267.4" r="1.0"/><circle cx="547.7" cy="258.8" r="1.0"/><circle cx="573.1" cy="241.0" r="1.0"/><circle cx="579.3" cy="241.0" r="1.0"/><circle cx="583.6" cy="240.0" r="1.0"/><circle cx="587.0" cy="240.0" r="1.0"/><circle cx="573.1" cy="244.8" r="1.0"/><circle cx="573.5" cy="245.2" r="1.0"/><circle cx="570.7" cy="243.3" r="1.0"/><circle cx="568.8" cy="248.1" r="1.0"/><circle cx="567.9" cy="249.1" r="1.0"/><circle cx="565.5" cy="252.4" r="1.0"/><circle cx="565.9" cy="252.0" r="1.0"/><circle cx="571.2" cy="252.4" r="1.0"/><circle cx="574.1" cy="251.0" r="1.0"/><circle cx="574.5" cy="249.1" r="1.0"/><circle cx="582.7" cy="244.3" r="1.0"/><circle cx="583.6" cy="242.9" r="1.0"/><circle cx="584.6" cy="241.9" r="1.0"/><circle cx="588.9" cy="244.8" r="1.0"/><circle cx="589.8" cy="241.9" r="1.0"/><circle cx="597.0" cy="243.3" r="1.0"/><circle cx="587.9" cy="250.0" r="1.0"/><circle cx="580.3" cy="256.7" r="1.0"/><circle cx="597.5" cy="254.3" r="1.0"/><circle cx="602.7" cy="251.0" r="1.0"/><circle cx="596.0" cy="260.5" r="1.0"/><circle cx="572.6" cy="267.2" r="1.0"/><circle cx="572.0" cy="224.1" r="1.0"/><circle cx="575.3" cy="225.0" r="1.0"/><circle cx="579.1" cy="227.9" r="1.0"/><circle cx="564.3" cy="232.7" r="1.0"/><circle cx="568.6" cy="232.7" r="1.0"/><circle cx="571.0" cy="232.7" r="1.0"/><circle cx="570.5" cy="235.5" r="1.0"/><circle cx="564.3" cy="237.0" r="1.0"/><circle cx="564.6" cy="236.6" r="1.0"/><circle cx="564.8" cy="239.8" r="1.0"/><circle cx="562.0" cy="242.2" r="1.0"/><circle cx="556.7" cy="243.2" r="1.0"/><circle cx="552.4" cy="244.6" r="1.0"/><circle cx="572.5" cy="240.8" r="1.0"/><circle cx="573.4" cy="244.6" r="1.0"/><circle cx="579.1" cy="240.8" r="1.0"/><circle cx="579.6" cy="233.1" r="1.0"/><circle cx="591.2" cy="214.9" r="1.0"/><circle cx="593.1" cy="215.8" r="1.0"/><circle cx="597.9" cy="213.9" r="1.0"/><circle cx="598.2" cy="214.3" r="1.0"/><circle cx="598.4" cy="215.3" r="1.0"/><circle cx="603.6" cy="215.8" r="1.0"/><circle cx="605.5" cy="213.9" r="1.0"/><circle cx="608.9" cy="213.4" r="1.0"/><circle cx="611.8" cy="215.8" r="1.0"/><circle cx="589.3" cy="219.2" r="1.0"/><circle cx="588.8" cy="221.1" r="1.0"/><circle cx="595.0" cy="218.7" r="1.0"/><circle cx="597.0" cy="219.6" r="1.0"/><circle cx="599.3" cy="220.1" r="1.0"/><circle cx="601.7" cy="218.7" r="1.0"/><circle cx="603.2" cy="219.6" r="1.0"/><circle cx="593.1" cy="222.0" r="1.0"/><circle cx="595.5" cy="222.0" r="1.0"/><circle cx="607.5" cy="221.1" r="1.0"/><circle cx="611.8" cy="221.1" r="1.0"/><circle cx="612.2" cy="223.9" r="1.0"/><circle cx="575.5" cy="224.9" r="1.0"/><circle cx="581.2" cy="224.9" r="1.0"/><circle cx="587.4" cy="224.9" r="1.0"/><circle cx="590.3" cy="226.3" r="1.0"/><circle cx="592.7" cy="226.3" r="1.0"/><circle cx="597.9" cy="226.8" r="1.0"/><circle cx="602.2" cy="224.9" r="1.0"/><circle cx="602.7" cy="226.3" r="1.0"/><circle cx="603.6" cy="227.3" r="1.0"/><circle cx="606.5" cy="227.3" r="1.0"/><circle cx="610.8" cy="227.8" r="1.0"/><circle cx="578.8" cy="227.8" r="1.0"/><circle cx="597.9" cy="229.2" r="1.0"/><circle cx="600.3" cy="230.1" r="1.0"/><circle cx="594.1" cy="230.1" r="1.0"/><circle cx="589.3" cy="232.0" r="1.0"/><circle cx="594.6" cy="232.5" r="1.0"/><circle cx="580.7" cy="232.0" r="1.0"/><circle cx="581.7" cy="233.5" r="1.0"/><circle cx="579.8" cy="234.4" r="1.0"/><circle cx="587.4" cy="235.4" r="1.0"/><circle cx="599.8" cy="236.8" r="1.0"/><circle cx="584.5" cy="237.8" r="1.0"/><circle cx="583.6" cy="239.2" r="1.0"/><circle cx="586.0" cy="239.2" r="1.0"/><circle cx="576.9" cy="240.6" r="1.0"/><circle cx="587.4" cy="241.1" r="1.0"/><circle cx="598.8" cy="205.5" r="1.0"/><circle cx="604.5" cy="204.1" r="1.0"/><circle cx="607.9" cy="204.1" r="1.0"/><circle cx="611.2" cy="204.6" r="1.0"/><circle cx="613.6" cy="204.1" r="1.0"/><circle cx="615.5" cy="204.6" r="1.0"/><circle cx="631.8" cy="204.1" r="1.0"/><circle cx="606.5" cy="207.9" r="1.0"/><circle cx="609.3" cy="207.0" r="1.0"/><circle cx="612.7" cy="207.4" r="1.0"/><circle cx="615.5" cy="207.9" r="1.0"/><circle cx="619.3" cy="207.0" r="1.0"/><circle cx="620.3" cy="207.9" r="1.0"/><circle cx="623.6" cy="207.9" r="1.0"/><circle cx="627.0" cy="207.4" r="1.0"/><circle cx="603.1" cy="209.3" r="1.0"/><circle cx="604.5" cy="209.8" r="1.0"/><circle cx="609.8" cy="210.3" r="1.0"/><circle cx="612.2" cy="209.8" r="1.0"/><circle cx="615.5" cy="211.3" r="1.0"/><circle cx="618.9" cy="210.8" r="1.0"/><circle cx="621.7" cy="211.3" r="1.0"/><circle cx="623.2" cy="210.3" r="1.0"/><circle cx="597.9" cy="212.7" r="1.0"/><circle cx="598.3" cy="212.3" r="1.0"/><circle cx="599.3" cy="213.6" r="1.0"/><circle cx="605.5" cy="212.7" r="1.0"/><circle cx="607.4" cy="212.2" r="1.0"/><circle cx="614.1" cy="213.2" r="1.0"/><circle cx="620.3" cy="213.6" r="1.0"/><circle cx="623.2" cy="213.2" r="1.0"/><circle cx="625.5" cy="212.2" r="1.0"/><circle cx="630.3" cy="214.6" r="1.0"/><circle cx="606.9" cy="211.0" r="1.0"/><circle cx="609.8" cy="211.4" r="1.0"/><circle cx="606.0" cy="213.8" r="1.0"/><circle cx="611.2" cy="215.7" r="1.0"/><circle cx="616.0" cy="215.7" r="1.0"/><circle cx="617.4" cy="214.3" r="1.0"/><circle cx="622.2" cy="211.4" r="1.0"/><circle cx="624.1" cy="211.0" r="1.0"/><circle cx="623.6" cy="213.3" r="1.0"/><circle cx="630.3" cy="215.7" r="1.0"/><circle cx="607.4" cy="221.0" r="1.0"/><circle cx="611.7" cy="221.0" r="1.0"/><circle cx="616.5" cy="221.0" r="1.0"/><circle cx="612.2" cy="223.8" r="1.0"/><circle cx="606.4" cy="226.2" r="1.0"/><circle cx="607.9" cy="227.7" r="1.0"/><circle cx="611.2" cy="227.7" r="1.0"/><circle cx="565.0" cy="210.8" r="1.0"/><circle cx="588.2" cy="221.3" r="1.0"/><circle cx="590.0" cy="242.0" r="1.0"/><circle cx="605.9" cy="243.5" r="1.0"/></g>
<line x1="503.50" y1="295.20" x2="679.30" y2="164.80" stroke="#fa8072" stroke-opacity="0.8" stroke-width="1.3"/>
<rect x="503.50" y="164.80" width="175.80" height="130.40" fill="none" stroke="#6a6a6a" stroke-width="0.9"/>
<line x1="503.50" y1="295.20" x2="503.50" y2="297.20" stroke="#6a6a6a" stroke-width="0.9"/>
<line x1="503.50" y1="295.20" x2="501.50" y2="295.20" stroke="#6a6a6a" stroke-width="0.9"/>
<text x="503.50" y="302.00" class="t" text-anchor="middle">0</text>
<text x="500.10" y="296.90" class="t" text-anchor="end">0</text>
<line x1="538.66" y1="295.20" x2="538.66" y2="297.20" stroke="#6a6a6a" stroke-width="0.9"/>
<line x1="503.50" y1="269.12" x2="501.50" y2="269.12" stroke="#6a6a6a" stroke-width="0.9"/>
<text x="538.66" y="302.00" class="t" text-anchor="middle">20</text>
<text x="500.10" y="270.82" class="t" text-anchor="end">20</text>
<line x1="573.82" y1="295.20" x2="573.82" y2="297.20" stroke="#6a6a6a" stroke-width="0.9"/>
<line x1="503.50" y1="243.04" x2="501.50" y2="243.04" stroke="#6a6a6a" stroke-width="0.9"/>
<text x="573.82" y="302.00" class="t" text-anchor="middle">40</text>
<text x="500.10" y="244.74" class="t" text-anchor="end">40</text>
<line x1="608.98" y1="295.20" x2="608.98" y2="297.20" stroke="#6a6a6a" stroke-width="0.9"/>
<line x1="503.50" y1="216.96" x2="501.50" y2="216.96" stroke="#6a6a6a" stroke-width="0.9"/>
<text x="608.98" y="302.00" class="t" text-anchor="middle">60</text>
<text x="500.10" y="218.66" class="t" text-anchor="end">60</text>
<line x1="644.14" y1="295.20" x2="644.14" y2="297.20" stroke="#6a6a6a" stroke-width="0.9"/>
<line x1="503.50" y1="190.88" x2="501.50" y2="190.88" stroke="#6a6a6a" stroke-width="0.9"/>
<text x="644.14" y="302.00" class="t" text-anchor="middle">80</text>
<text x="500.10" y="192.58" class="t" text-anchor="end">80</text>
<line x1="679.30" y1="295.20" x2="679.30" y2="297.20" stroke="#6a6a6a" stroke-width="0.9"/>
<line x1="503.50" y1="164.80" x2="501.50" y2="164.80" stroke="#6a6a6a" stroke-width="0.9"/>
<text x="679.30" y="302.00" class="t" text-anchor="middle">100</text>
<text x="500.10" y="166.50" class="t" text-anchor="end">100</text>
<text x="591.70" y="310.40" class="l" text-anchor="middle">Regression Predict</text>
<text transform="translate(486.70,230.00) rotate(-90)" class="l" text-anchor="middle">True</text>
</g>
<text x="191.40" y="110.20" class="big">GE</text>
<text x="405.55" y="110.20" class="big">PH</text>
<text x="633.80" y="110.20" class="big">CA</text>
<text x="193.20" y="274.10" class="big">GE</text>
<text x="409.30" y="274.10" class="big">PH</text>
<text x="635.90" y="274.10" class="big">CA</text>
<text transform="translate(17.3,69.9) rotate(-90)" class="row" text-anchor="middle">DAfull-GE</text>
<text transform="translate(18.5,237.6) rotate(-90)" class="row" text-anchor="middle">NoDA-all</text>
</svg></body></html>
